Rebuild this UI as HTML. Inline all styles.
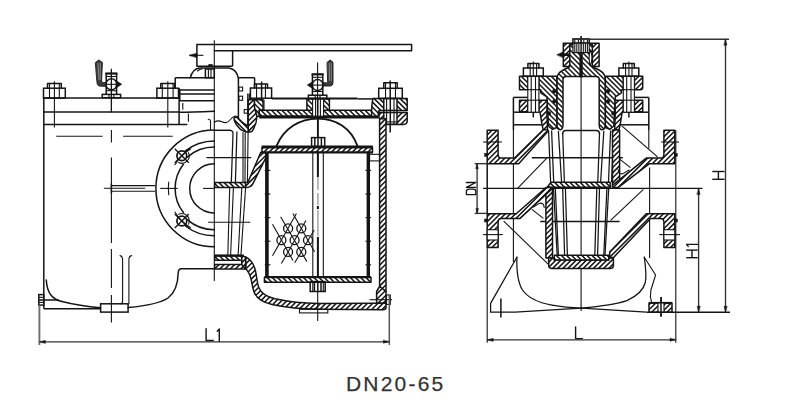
<!DOCTYPE html>
<html><head><meta charset="utf-8"><title>DN20-65</title>
<style>
html,body{margin:0;padding:0;background:#fff;}
body{width:811px;height:416px;overflow:hidden;position:relative;font-family:"Liberation Sans",sans-serif;}
svg{position:absolute;left:0;top:0;display:block;}
.cap{position:absolute;left:346px;top:372.4px;font-size:21px;line-height:24px;letter-spacing:2.2px;color:#333;white-space:nowrap;-webkit-text-stroke:0.25px #333;}
</style></head><body>
<svg width="811" height="416" viewBox="0 0 811 416">
<defs>
<pattern id="h1" patternUnits="userSpaceOnUse" width="3" height="3"><rect width="3" height="3" fill="#fff"/><path d="M-1 1 l2 -2 M0 3 l3 -3 M2 4 l2 -2" stroke="#141414" stroke-width="0.95" fill="none"/></pattern>
<pattern id="h2" patternUnits="userSpaceOnUse" width="3" height="3"><rect width="3" height="3" fill="#fff"/><path d="M-1 2 l2 2 M0 0 l3 3 M2 -1 l2 2" stroke="#141414" stroke-width="0.95" fill="none"/></pattern>
</defs>
<rect width="811" height="416" fill="#fff"/>
<line x1="43.8" y1="98.1" x2="43.8" y2="308.8" stroke="#141414" stroke-width="1.5" stroke-linecap="butt"/>
<line x1="43.8" y1="98.1" x2="179.1" y2="98.1" stroke="#141414" stroke-width="1.5" stroke-linecap="butt"/>
<line x1="43.8" y1="111.9" x2="179.1" y2="111.9" stroke="#141414" stroke-width="1.5" stroke-linecap="butt"/>
<line x1="43.8" y1="124.4" x2="187.3" y2="124.4" stroke="#141414" stroke-width="1.5" stroke-linecap="butt"/>
<line x1="179.1" y1="88" x2="179.1" y2="124.4" stroke="#141414" stroke-width="1.5" stroke-linecap="butt"/>
<line x1="56.3" y1="136.3" x2="102.6" y2="136.3" stroke="#141414" stroke-width="1.1" stroke-linecap="butt"/>
<line x1="123.1" y1="136.3" x2="172.7" y2="136.3" stroke="#141414" stroke-width="1.1" stroke-linecap="butt"/>
<line x1="111.4" y1="68.8" x2="111.4" y2="112.6" stroke="#141414" stroke-width="1.1" stroke-linecap="butt"/>
<line x1="111.4" y1="130" x2="111.4" y2="142.5" stroke="#141414" stroke-width="1.1" stroke-linecap="butt"/>
<line x1="111.4" y1="157.5" x2="111.4" y2="243" stroke="#141414" stroke-width="1.1" stroke-linecap="butt"/>
<line x1="111.4" y1="249" x2="111.4" y2="288" stroke="#141414" stroke-width="1.1" stroke-linecap="butt"/>
<line x1="111.4" y1="295" x2="111.4" y2="322.6" stroke="#141414" stroke-width="1.1" stroke-linecap="butt"/>
<line x1="111.4" y1="185.6" x2="155.2" y2="185.6" stroke="#141414" stroke-width="1.1" stroke-linecap="butt"/>
<line x1="111.4" y1="191.3" x2="155.2" y2="191.3" stroke="#141414" stroke-width="1.1" stroke-linecap="butt"/>
<line x1="103.9" y1="188.3" x2="145.2" y2="188.3" stroke="#141414" stroke-width="1.1" stroke-linecap="butt"/>
<line x1="111.4" y1="183.5" x2="111.4" y2="193.5" stroke="#141414" stroke-width="1.5" stroke-linecap="butt"/>
<path d="M46.3 280 C47 293 52 299 62 301.6 C75 305 90 307 100.6 307.8" stroke="#141414" stroke-width="1.5" fill="none" stroke-linejoin="round" stroke-linecap="round"/>
<line x1="43.8" y1="308.8" x2="100.6" y2="308.8" stroke="#141414" stroke-width="1.5" stroke-linecap="butt"/>
<line x1="38.8" y1="300" x2="58.8" y2="300" stroke="#141414" stroke-width="1.5" stroke-linecap="butt"/>
<rect x="38.8" y="294.6" width="5" height="10.5" stroke="#141414" stroke-width="1.5" fill="none"/>
<line x1="38.8" y1="297.3" x2="43.8" y2="297.3" stroke="#141414" stroke-width="1.1" stroke-linecap="butt"/>
<line x1="38.8" y1="302.4" x2="43.8" y2="302.4" stroke="#141414" stroke-width="1.1" stroke-linecap="butt"/>
<rect x="100.6" y="303.8" width="27.5" height="8.3" stroke="#141414" stroke-width="1.5" fill="none"/>
<path d="M128.1 307.6 C145 306 160 303.5 168 298 C176 292 178 282 178.2 273 C178.3 270 179 268.8 181.5 268.8 L214.3 268.8" stroke="#141414" stroke-width="1.5" fill="none" stroke-linejoin="round" stroke-linecap="round"/>
<path d="M120 255.6 C122.2 256 122.6 257.5 122.6 260 L122.6 301.5 C122.6 303 121.5 303.8 120 303.8" stroke="#141414" stroke-width="1.1" fill="none" stroke-linejoin="round" stroke-linecap="round"/>
<path d="M131.6 255.6 C129.4 256 128.9 257.5 128.9 260 L128.9 303.8" stroke="#141414" stroke-width="1.1" fill="none" stroke-linejoin="round" stroke-linecap="round"/>
<rect x="43.5" y="88.2" width="21.8" height="9.9" stroke="#141414" stroke-width="1.5" fill="none"/>
<path d="M47.5 88.2 L47.5 83.6 L61.3 83.6 L61.3 88.2" stroke="#141414" stroke-width="1.5" fill="none" stroke-linejoin="round" stroke-linecap="round"/>
<line x1="49.49" y1="83.6" x2="49.49" y2="98.1" stroke="#141414" stroke-width="1.1" stroke-linecap="butt"/>
<line x1="59.3" y1="83.6" x2="59.3" y2="98.1" stroke="#141414" stroke-width="1.1" stroke-linecap="butt"/>
<line x1="54.4" y1="81.3" x2="54.4" y2="127.6" stroke="#141414" stroke-width="1.1" stroke-linecap="butt"/>
<rect x="156.9" y="88.2" width="21.6" height="9.9" stroke="#141414" stroke-width="1.5" fill="none"/>
<path d="M160.8 88.2 L160.8 83.6 L174.6 83.6 L174.6 88.2" stroke="#141414" stroke-width="1.5" fill="none" stroke-linejoin="round" stroke-linecap="round"/>
<line x1="162.3" y1="83.6" x2="162.3" y2="98.1" stroke="#141414" stroke-width="1.1" stroke-linecap="butt"/>
<line x1="173.1" y1="83.6" x2="173.1" y2="98.1" stroke="#141414" stroke-width="1.1" stroke-linecap="butt"/>
<line x1="167.8" y1="81.3" x2="167.8" y2="127.6" stroke="#141414" stroke-width="1.1" stroke-linecap="butt"/>
<rect x="102.2" y="94.4" width="18.4" height="3.3" stroke="#141414" stroke-width="1.5" fill="none"/>
<line x1="106.2" y1="94.4" x2="106.2" y2="73.1" stroke="#141414" stroke-width="1.5" stroke-linecap="butt"/>
<line x1="116.6" y1="94.4" x2="116.6" y2="73.1" stroke="#141414" stroke-width="1.5" stroke-linecap="butt"/>
<line x1="105.4" y1="73.5" x2="117.4" y2="73.5" stroke="#141414" stroke-width="2.2" stroke-linecap="butt"/>
<line x1="106.2" y1="76.5" x2="116.6" y2="76.5" stroke="#141414" stroke-width="1.1" stroke-linecap="butt"/>
<line x1="106.2" y1="90.7" x2="116.6" y2="90.7" stroke="#141414" stroke-width="1.1" stroke-linecap="butt"/>
<circle cx="111.4" cy="84.3" r="5.5" stroke="#141414" stroke-width="1.5" fill="none"/>
<line x1="104.4" y1="84.3" x2="118.4" y2="84.3" stroke="#141414" stroke-width="1.1" stroke-linecap="butt"/>
<line x1="111.4" y1="69.6" x2="111.4" y2="112.1" stroke="#141414" stroke-width="1.1" stroke-linecap="butt"/>
<line x1="109" y1="94.4" x2="109" y2="97.7" stroke="#141414" stroke-width="1.1" stroke-linecap="butt"/>
<line x1="113.8" y1="94.4" x2="113.8" y2="97.7" stroke="#141414" stroke-width="1.1" stroke-linecap="butt"/>
<path d="M116.6 81.1 L121.6 84.3 L116.6 87.5 Z" stroke="#141414" stroke-width="0.8" fill="#141414" stroke-linejoin="round" stroke-linecap="round"/>
<path d="M95.6 62.4 L98.7 60 L102.4 62.4 L101.6 80 C101.6 81.8 102.2 82.6 103.5 82.6 L106 82.6 L106 86.2 L100.5 86.2 C98 86.2 97 84.5 96.9 82 Z" stroke="#141414" stroke-width="0.9" fill="#3c3c3c" stroke-linejoin="round" stroke-linecap="round"/>
<line x1="98" y1="63" x2="99" y2="80" stroke="#a8a8a8" stroke-width="0.7" stroke-linecap="butt"/>
<line x1="100.3" y1="63" x2="100.2" y2="80" stroke="#a8a8a8" stroke-width="0.7" stroke-linecap="butt"/>
<line x1="175.2" y1="77.8" x2="214.3" y2="77.8" stroke="#141414" stroke-width="1.5" stroke-linecap="butt"/>
<line x1="175.2" y1="77.8" x2="175.2" y2="88" stroke="#141414" stroke-width="1.5" stroke-linecap="butt"/>
<line x1="178.2" y1="90" x2="214.3" y2="90" stroke="#141414" stroke-width="1.5" stroke-linecap="butt"/>
<line x1="180.2" y1="93.9" x2="214.3" y2="93.9" stroke="#141414" stroke-width="1.5" stroke-linecap="butt"/>
<line x1="180.2" y1="100.8" x2="214.3" y2="100.8" stroke="#141414" stroke-width="1.5" stroke-linecap="butt"/>
<path d="M179.1 112.2 C190 112.2 205 111.6 214.3 111.2" stroke="#141414" stroke-width="1.5" fill="none" stroke-linejoin="round" stroke-linecap="round"/>
<line x1="179.8" y1="89" x2="179.8" y2="101.3" stroke="#141414" stroke-width="1.5" stroke-linecap="butt"/>
<line x1="182.8" y1="103" x2="182.8" y2="109.7" stroke="#141414" stroke-width="1.1" stroke-linecap="butt"/>
<line x1="188.4" y1="113.4" x2="188.4" y2="121.8" stroke="#141414" stroke-width="1.1" stroke-linecap="butt"/>
<path d="M196.9 66.2 L196.9 44.4 L411.6 44.4 L411.6 50.8 L214.3 50.8" stroke="#141414" stroke-width="1.5" fill="none" stroke-linejoin="round" stroke-linecap="round"/>
<line x1="196.9" y1="66.2" x2="232.6" y2="66.2" stroke="#141414" stroke-width="1.5" stroke-linecap="butt"/>
<line x1="232.6" y1="50.8" x2="232.6" y2="66.2" stroke="#141414" stroke-width="1.5" stroke-linecap="butt"/>
<line x1="214.3" y1="40.3" x2="214.3" y2="281" stroke="#141414" stroke-width="1.1" stroke-linecap="butt"/>
<line x1="189.5" y1="55.3" x2="203.4" y2="55.3" stroke="#141414" stroke-width="1.1" stroke-linecap="butt"/>
<path d="M189.4 55.3 L196.9 53.2 L196.9 57.4 Z" stroke="#141414" stroke-width="0.6" fill="#141414" stroke-linejoin="round" stroke-linecap="round"/>
<path d="M190.3 77.8 C191.5 72.5 195 68.6 199.5 67.9 L229 67.9 C234 68.8 237.6 73 238.4 78.7 L238.4 118" stroke="#141414" stroke-width="1.5" fill="none" stroke-linejoin="round" stroke-linecap="round"/>
<rect x="205.4" y="69" width="8.9" height="8.7" stroke="#141414" stroke-width="1.5" fill="none"/>
<line x1="208.4" y1="69" x2="208.4" y2="77.7" stroke="#141414" stroke-width="1.1" stroke-linecap="butt"/>
<line x1="211" y1="69" x2="211" y2="77.7" stroke="#141414" stroke-width="1.1" stroke-linecap="butt"/>
<rect x="208.8" y="64.4" width="3.4" height="1.8" stroke="#141414" stroke-width="0.6" fill="#141414"/>
<path d="M197.5 71 C199 69.6 200.8 69 202.5 68.8" stroke="#141414" stroke-width="1.1" fill="none" stroke-linejoin="round" stroke-linecap="round"/>
<path d="M214.3 130 A58.4 58.4 0 0 0 214.3 246.8" stroke="#141414" stroke-width="1.5" fill="none" stroke-linejoin="round" stroke-linecap="round"/>
<path d="M214.3 163.8 A24.6 24.6 0 0 0 214.3 213" stroke="#141414" stroke-width="1.5" fill="none" stroke-linejoin="round" stroke-linecap="round"/>
<path d="M214.3 147.1 A41.3 41.3 0 0 0 187.2 157.23" stroke="#141414" stroke-width="1.5" fill="none" stroke-linejoin="round" stroke-linecap="round"/>
<path d="M187.2 219.57 A41.3 41.3 0 0 0 214.3 229.7" stroke="#141414" stroke-width="1.5" fill="none" stroke-linejoin="round" stroke-linecap="round"/>
<path d="M183.41 164.27 A39.2 39.2 0 0 0 183.41 212.53" stroke="#141414" stroke-width="1.5" fill="none" stroke-linejoin="round" stroke-linecap="round"/>
<path d="M214.3 141 A47.4 47.4 0 0 0 185.12 151.05" stroke="#141414" stroke-width="1.5" fill="none" stroke-linejoin="round" stroke-linecap="round"/>
<path d="M185.12 225.75 A47.4 47.4 0 0 0 214.3 235.8" stroke="#141414" stroke-width="1.5" fill="none" stroke-linejoin="round" stroke-linecap="round"/>
<path d="M168.75 182 A46 46 0 0 0 168.75 194.8" stroke="#141414" stroke-width="1.1" fill="none" stroke-linejoin="round" stroke-linecap="round"/>
<circle cx="181.8" cy="155.8" r="4.9" stroke="#141414" stroke-width="1.7" fill="none"/>
<line x1="174.8" y1="148.8" x2="188.8" y2="162.8" stroke="#141414" stroke-width="1.3" stroke-linecap="butt"/>
<line x1="174.8" y1="162.8" x2="188.8" y2="148.8" stroke="#141414" stroke-width="1.3" stroke-linecap="butt"/>
<path d="M178.67 162.51 A7.4 7.4 0 0 0 188.51 152.67" stroke="#141414" stroke-width="1.1" fill="none" stroke-linejoin="round" stroke-linecap="round"/>
<path d="M190.61 148.97 A46 46 0 0 0 174.87 164.71" stroke="#141414" stroke-width="1.1" fill="none" stroke-linejoin="round" stroke-linecap="round"/>
<circle cx="181.8" cy="221" r="4.9" stroke="#141414" stroke-width="1.7" fill="none"/>
<line x1="174.8" y1="214" x2="188.8" y2="228" stroke="#141414" stroke-width="1.3" stroke-linecap="butt"/>
<line x1="174.8" y1="228" x2="188.8" y2="214" stroke="#141414" stroke-width="1.3" stroke-linecap="butt"/>
<path d="M188.51 224.13 A7.4 7.4 0 0 0 178.67 214.29" stroke="#141414" stroke-width="1.1" fill="none" stroke-linejoin="round" stroke-linecap="round"/>
<path d="M174.87 212.09 A46 46 0 0 0 190.61 227.83" stroke="#141414" stroke-width="1.1" fill="none" stroke-linejoin="round" stroke-linecap="round"/>
<line x1="160.2" y1="188.4" x2="177.7" y2="188.4" stroke="#141414" stroke-width="1.1" stroke-linecap="butt"/>
<line x1="206.5" y1="157.6" x2="251.2" y2="157.6" stroke="#141414" stroke-width="1.1" stroke-linecap="butt"/>
<line x1="208.1" y1="222.2" x2="250.3" y2="222.2" stroke="#141414" stroke-width="1.1" stroke-linecap="butt"/>
<line x1="203" y1="188.4" x2="214.3" y2="188.4" stroke="#141414" stroke-width="1.1" stroke-linecap="butt"/>
<line x1="238.3" y1="77.7" x2="254.6" y2="77.7" stroke="#141414" stroke-width="1.5" stroke-linecap="butt"/>
<line x1="254.6" y1="77.7" x2="254.6" y2="87.6" stroke="#141414" stroke-width="1.5" stroke-linecap="butt"/>
<rect x="238.9" y="87.1" width="3.7" height="3.9" stroke="#141414" stroke-width="1.1" fill="none"/>
<rect x="238.9" y="96.2" width="3.7" height="4.1" stroke="#141414" stroke-width="1.1" fill="none"/>
<rect x="244.2" y="109.5" width="3.3" height="3.7" stroke="#141414" stroke-width="1.1" fill="none"/>
<line x1="247.9" y1="93.5" x2="247.9" y2="132" stroke="#141414" stroke-width="1.5" stroke-linecap="butt"/>
<line x1="249.6" y1="93.5" x2="249.6" y2="99.7" stroke="#141414" stroke-width="1.1" stroke-linecap="butt"/>
<path d="M208.2 119.2 C210.5 119 210.8 121 210.5 124 L210.5 129.3" stroke="#141414" stroke-width="1.1" fill="none" stroke-linejoin="round" stroke-linecap="round"/>
<path d="M214.3 122.2 C217 120.5 219.5 120.6 222 121.8 C225 123.2 227.5 122.8 229.5 120.5 C231.5 118 233 116.5 235.2 116 C236.6 116 237.6 117 238.3 118.2" stroke="#141414" stroke-width="1.1" fill="none" stroke-linejoin="round" stroke-linecap="round"/>
<rect x="250.4" y="88" width="21.2" height="10.2" stroke="#141414" stroke-width="1.5" fill="none"/>
<path d="M254.5 88 L254.5 83.9 L267.5 83.9 L267.5 88" stroke="#141414" stroke-width="1.5" fill="none" stroke-linejoin="round" stroke-linecap="round"/>
<line x1="256.55" y1="83.9" x2="256.55" y2="98.2" stroke="#141414" stroke-width="1.1" stroke-linecap="butt"/>
<line x1="265.45" y1="83.9" x2="265.45" y2="98.2" stroke="#141414" stroke-width="1.1" stroke-linecap="butt"/>
<line x1="261.6" y1="81.5" x2="261.6" y2="98.2" stroke="#141414" stroke-width="1.5" stroke-linecap="butt"/>
<clipPath id="c1"><path d="M248.2 99.7 L254.5 99.7 L254.5 107 C255 111 256.5 112.5 256.8 116.2 C257 121 255.6 126 251.9 131.6 L248.2 132.2 Z"/></clipPath>
<path d="M248.2 99.7 L254.5 99.7 L254.5 107 C255 111 256.5 112.5 256.8 116.2 C257 121 255.6 126 251.9 131.6 L248.2 132.2 Z" fill="#fff" stroke="none"/>
<path d="M210 133.2 L244.5 98.7 M215.2 133.2 L249.7 98.7 M220.4 133.2 L254.9 98.7 M225.6 133.2 L260.1 98.7 M230.8 133.2 L265.3 98.7 M236 133.2 L270.5 98.7 M241.2 133.2 L275.7 98.7 M246.4 133.2 L280.9 98.7 M251.6 133.2 L286.1 98.7 M256.8 133.2 L291.3 98.7" stroke="#141414" stroke-width="1.5" fill="none" clip-path="url(#c1)"/>
<path d="M248.2 99.7 L254.5 99.7 L254.5 107 C255 111 256.5 112.5 256.8 116.2 C257 121 255.6 126 251.9 131.6 L248.2 132.2 Z" stroke="#141414" stroke-width="1.5" fill="none" stroke-linejoin="round" stroke-linecap="round"/>
<clipPath id="c2"><path d="M254.5 99.7 L263 99.7 L263 110.1 L259.3 110.1 L259.3 116.5 L256.8 116.2 C256.5 112.5 255 111 254.5 107 Z"/></clipPath>
<path d="M254.5 99.7 L263 99.7 L263 110.1 L259.3 110.1 L259.3 116.5 L256.8 116.2 C256.5 112.5 255 111 254.5 107 Z" fill="#fff" stroke="none"/>
<path d="M233.9 98.7 L252.7 117.5 M239.1 98.7 L257.9 117.5 M244.3 98.7 L263.1 117.5 M249.5 98.7 L268.3 117.5 M254.7 98.7 L273.5 117.5 M259.9 98.7 L278.7 117.5" stroke="#141414" stroke-width="1.5" fill="none" clip-path="url(#c2)"/>
<path d="M254.5 99.7 L263 99.7 L263 110.1 L259.3 110.1 L259.3 116.5 L256.8 116.2 C256.5 112.5 255 111 254.5 107 Z" stroke="#141414" stroke-width="1.5" fill="none" stroke-linejoin="round" stroke-linecap="round"/>
<clipPath id="c3"><path d="M234 118 C234 121 235 124 240.8 129.7 C243 131.2 245.5 132 248.2 132.2 L248.2 126 C245 124.5 241 122 237 116.8 Z"/></clipPath>
<path d="M234 118 C234 121 235 124 240.8 129.7 C243 131.2 245.5 132 248.2 132.2 L248.2 126 C245 124.5 241 122 237 116.8 Z" fill="#fff" stroke="none"/>
<path d="M214.6 115.8 L232 133.2 M219.8 115.8 L237.2 133.2 M225 115.8 L242.4 133.2 M230.2 115.8 L247.6 133.2 M235.4 115.8 L252.8 133.2 M240.6 115.8 L258 133.2 M245.8 115.8 L263.2 133.2" stroke="#141414" stroke-width="1.5" fill="none" clip-path="url(#c3)"/>
<path d="M234 118 C234 121 235 124 240.8 129.7 C243 131.2 245.5 132 248.2 132.2 L248.2 126 C245 124.5 241 122 237 116.8 Z" stroke="#141414" stroke-width="1.5" fill="none" stroke-linejoin="round" stroke-linecap="round"/>
<clipPath id="c4"><path d="M259.3 110.2 L372.5 110.2 L372.5 116.2 L259.3 116.2 Z"/></clipPath>
<path d="M259.3 110.2 L372.5 110.2 L372.5 116.2 L259.3 116.2 Z" fill="#fff" stroke="none"/>
<path d="M249.6 109.2 L257.6 117.2 M254.8 109.2 L262.8 117.2 M260 109.2 L268 117.2 M265.2 109.2 L273.2 117.2 M270.4 109.2 L278.4 117.2 M275.6 109.2 L283.6 117.2 M280.8 109.2 L288.8 117.2 M286 109.2 L294 117.2 M291.2 109.2 L299.2 117.2 M296.4 109.2 L304.4 117.2 M301.6 109.2 L309.6 117.2 M306.8 109.2 L314.8 117.2 M312 109.2 L320 117.2 M317.2 109.2 L325.2 117.2 M322.4 109.2 L330.4 117.2 M327.6 109.2 L335.6 117.2 M332.8 109.2 L340.8 117.2 M338 109.2 L346 117.2 M343.2 109.2 L351.2 117.2 M348.4 109.2 L356.4 117.2 M353.6 109.2 L361.6 117.2 M358.8 109.2 L366.8 117.2 M364 109.2 L372 117.2 M369.2 109.2 L377.2 117.2" stroke="#141414" stroke-width="1.5" fill="none" clip-path="url(#c4)"/>
<path d="M259.3 110.2 L372.5 110.2 L372.5 116.2 L259.3 116.2 Z" stroke="#141414" stroke-width="1.5" fill="none" stroke-linejoin="round" stroke-linecap="round"/>
<line x1="259.3" y1="117" x2="378.5" y2="117" stroke="#141414" stroke-width="3" stroke-linecap="butt"/>
<line x1="271.6" y1="98.6" x2="357.5" y2="98.6" stroke="#141414" stroke-width="2" stroke-linecap="butt"/>
<line x1="357.5" y1="98.9" x2="372.5" y2="98.9" stroke="#141414" stroke-width="1.5" stroke-linecap="butt"/>
<line x1="264" y1="99.7" x2="264" y2="110.1" stroke="#141414" stroke-width="1.1" stroke-linecap="butt"/>
<clipPath id="c5"><path d="M306.9 99.1 L306.9 110.3 L329.4 110.3 L329.4 99.1 Z"/></clipPath>
<path d="M306.9 99.1 L306.9 110.3 L329.4 110.3 L329.4 99.1 Z" fill="#fff" stroke="none"/>
<path d="M290.5 98.1 L303.7 111.3 M295.7 98.1 L308.9 111.3 M300.9 98.1 L314.1 111.3 M306.1 98.1 L319.3 111.3 M311.3 98.1 L324.5 111.3 M316.5 98.1 L329.7 111.3 M321.7 98.1 L334.9 111.3 M326.9 98.1 L340.1 111.3" stroke="#141414" stroke-width="1.5" fill="none" clip-path="url(#c5)"/>
<path d="M306.9 99.1 L306.9 110.3 L329.4 110.3 L329.4 99.1 Z" stroke="#141414" stroke-width="1.5" fill="none" stroke-linejoin="round" stroke-linecap="round"/>
<rect x="312.6" y="99.1" width="11" height="17.1" stroke="#141414" stroke-width="1.1" fill="#fff"/>
<line x1="315.6" y1="99.1" x2="315.6" y2="116.2" stroke="#141414" stroke-width="1.1" stroke-linecap="butt"/>
<line x1="320.4" y1="99.1" x2="320.4" y2="116.2" stroke="#141414" stroke-width="1.1" stroke-linecap="butt"/>
<rect x="308.4" y="95.2" width="18.4" height="3.3" stroke="#141414" stroke-width="1.5" fill="none"/>
<line x1="312.4" y1="95.2" x2="312.4" y2="73.9" stroke="#141414" stroke-width="1.5" stroke-linecap="butt"/>
<line x1="322.8" y1="95.2" x2="322.8" y2="73.9" stroke="#141414" stroke-width="1.5" stroke-linecap="butt"/>
<line x1="311.6" y1="74.3" x2="323.6" y2="74.3" stroke="#141414" stroke-width="2.2" stroke-linecap="butt"/>
<line x1="312.4" y1="77.3" x2="322.8" y2="77.3" stroke="#141414" stroke-width="1.1" stroke-linecap="butt"/>
<line x1="312.4" y1="91.5" x2="322.8" y2="91.5" stroke="#141414" stroke-width="1.1" stroke-linecap="butt"/>
<circle cx="317.6" cy="85.1" r="5.5" stroke="#141414" stroke-width="1.5" fill="none"/>
<line x1="310.6" y1="85.1" x2="324.6" y2="85.1" stroke="#141414" stroke-width="1.1" stroke-linecap="butt"/>
<line x1="317.6" y1="62.4" x2="317.6" y2="112.9" stroke="#141414" stroke-width="1.1" stroke-linecap="butt"/>
<line x1="315.2" y1="95.2" x2="315.2" y2="98.5" stroke="#141414" stroke-width="1.1" stroke-linecap="butt"/>
<line x1="320" y1="95.2" x2="320" y2="98.5" stroke="#141414" stroke-width="1.1" stroke-linecap="butt"/>
<path d="M312.4 81.9 L307.4 85.1 L312.4 88.3 Z" stroke="#141414" stroke-width="0.8" fill="#141414" stroke-linejoin="round" stroke-linecap="round"/>
<path d="M327.3 62.2 L330.2 60 L333 62.2 L333 82.4 C333 85 331.8 86 329.4 86 L323.2 86 L323.2 82.8 L326.4 82.8 C327.2 82.8 327.6 82.2 327.6 81.2 Z" stroke="#141414" stroke-width="0.9" fill="#3c3c3c" stroke-linejoin="round" stroke-linecap="round"/>
<line x1="329.3" y1="63" x2="329.4" y2="81" stroke="#a8a8a8" stroke-width="0.7" stroke-linecap="butt"/>
<line x1="331.3" y1="63" x2="331.3" y2="81" stroke="#a8a8a8" stroke-width="0.7" stroke-linecap="butt"/>
<clipPath id="c6"><path d="M372.8 98.6 L407.2 98.6 L407.2 110.4 L379 110.4 L378.1 116.2 L371.5 116.2 L371.8 106 Z"/></clipPath>
<path d="M372.8 98.6 L407.2 98.6 L407.2 110.4 L379 110.4 L378.1 116.2 L371.5 116.2 L371.8 106 Z" fill="#fff" stroke="none"/>
<path d="M347.2 97.6 L366.8 117.2 M352.4 97.6 L372 117.2 M357.6 97.6 L377.2 117.2 M362.8 97.6 L382.4 117.2 M368 97.6 L387.6 117.2 M373.2 97.6 L392.8 117.2 M378.4 97.6 L398 117.2 M383.6 97.6 L403.2 117.2 M388.8 97.6 L408.4 117.2 M394 97.6 L413.6 117.2 M399.2 97.6 L418.8 117.2 M404.4 97.6 L424 117.2" stroke="#141414" stroke-width="1.5" fill="none" clip-path="url(#c6)"/>
<path d="M372.8 98.6 L407.2 98.6 L407.2 110.4 L379 110.4 L378.1 116.2 L371.5 116.2 L371.8 106 Z" stroke="#141414" stroke-width="1.5" fill="none" stroke-linejoin="round" stroke-linecap="round"/>
<clipPath id="c7"><path d="M379 112.5 L407.2 112.5 L407.2 120.8 C407.2 123.2 405.8 124.4 403.5 124.4 L386.1 124.4 L386.1 118.7 L379.8 118.7 L379 117.8 Z"/></clipPath>
<path d="M379 112.5 L407.2 112.5 L407.2 120.8 C407.2 123.2 405.8 124.4 403.5 124.4 L386.1 124.4 L386.1 118.7 L379.8 118.7 L379 117.8 Z" fill="#fff" stroke="none"/>
<path d="M363.4 125.4 L377.3 111.5 M368.6 125.4 L382.5 111.5 M373.8 125.4 L387.7 111.5 M379 125.4 L392.9 111.5 M384.2 125.4 L398.1 111.5 M389.4 125.4 L403.3 111.5 M394.6 125.4 L408.5 111.5 M399.8 125.4 L413.7 111.5 M405 125.4 L418.9 111.5" stroke="#141414" stroke-width="1.5" fill="none" clip-path="url(#c7)"/>
<path d="M379 112.5 L407.2 112.5 L407.2 120.8 C407.2 123.2 405.8 124.4 403.5 124.4 L386.1 124.4 L386.1 118.7 L379.8 118.7 L379 117.8 Z" stroke="#141414" stroke-width="1.5" fill="none" stroke-linejoin="round" stroke-linecap="round"/>
<rect x="383.8" y="98.6" width="13.2" height="25.6" stroke="#141414" stroke-width="1.5" fill="#fff"/>
<line x1="386.6" y1="98.6" x2="386.6" y2="124.2" stroke="#141414" stroke-width="1.1" stroke-linecap="butt"/>
<line x1="394" y1="98.6" x2="394" y2="124.2" stroke="#141414" stroke-width="1.1" stroke-linecap="butt"/>
<line x1="390.3" y1="98.6" x2="390.3" y2="124.2" stroke="#141414" stroke-width="1.5" stroke-linecap="butt"/>
<line x1="383.8" y1="110.4" x2="397" y2="110.4" stroke="#141414" stroke-width="1.5" stroke-linecap="butt"/>
<line x1="383.8" y1="112.5" x2="397" y2="112.5" stroke="#141414" stroke-width="1.5" stroke-linecap="butt"/>
<line x1="383.8" y1="121.9" x2="397" y2="121.9" stroke="#141414" stroke-width="1.1" stroke-linecap="butt"/>
<rect x="378.7" y="88.3" width="23.6" height="10.1" stroke="#141414" stroke-width="1.5" fill="none"/>
<path d="M383.8 88.3 L383.8 82.8 L397.2 82.8 L397.2 88.3" stroke="#141414" stroke-width="1.5" fill="none" stroke-linejoin="round" stroke-linecap="round"/>
<line x1="385.54" y1="82.8" x2="385.54" y2="98.4" stroke="#141414" stroke-width="1.1" stroke-linecap="butt"/>
<line x1="395.46" y1="82.8" x2="395.46" y2="98.4" stroke="#141414" stroke-width="1.1" stroke-linecap="butt"/>
<line x1="390.2" y1="80.5" x2="390.2" y2="98.4" stroke="#141414" stroke-width="1.5" stroke-linecap="butt"/>
<line x1="390.2" y1="124.2" x2="390.2" y2="132.5" stroke="#141414" stroke-width="1.5" stroke-linecap="butt"/>
<clipPath id="c8"><path d="M379.6 118.7 L386 118.7 L386 291.5 L379.6 286.5 Z"/></clipPath>
<path d="M379.6 118.7 L386 118.7 L386 291.5 L379.6 286.5 Z" fill="#fff" stroke="none"/>
<path d="M201.5 292.5 L376.3 117.7 M206.7 292.5 L381.5 117.7 M211.9 292.5 L386.7 117.7 M217.1 292.5 L391.9 117.7 M222.3 292.5 L397.1 117.7 M227.5 292.5 L402.3 117.7 M232.7 292.5 L407.5 117.7 M237.9 292.5 L412.7 117.7 M243.1 292.5 L417.9 117.7 M248.3 292.5 L423.1 117.7 M253.5 292.5 L428.3 117.7 M258.7 292.5 L433.5 117.7 M263.9 292.5 L438.7 117.7 M269.1 292.5 L443.9 117.7 M274.3 292.5 L449.1 117.7 M279.5 292.5 L454.3 117.7 M284.7 292.5 L459.5 117.7 M289.9 292.5 L464.7 117.7 M295.1 292.5 L469.9 117.7 M300.3 292.5 L475.1 117.7 M305.5 292.5 L480.3 117.7 M310.7 292.5 L485.5 117.7 M315.9 292.5 L490.7 117.7 M321.1 292.5 L495.9 117.7 M326.3 292.5 L501.1 117.7 M331.5 292.5 L506.3 117.7 M336.7 292.5 L511.5 117.7 M341.9 292.5 L516.7 117.7 M347.1 292.5 L521.9 117.7 M352.3 292.5 L527.1 117.7 M357.5 292.5 L532.3 117.7 M362.7 292.5 L537.5 117.7 M367.9 292.5 L542.7 117.7 M373.1 292.5 L547.9 117.7 M378.3 292.5 L553.1 117.7 M383.5 292.5 L558.3 117.7" stroke="#141414" stroke-width="1.5" fill="none" clip-path="url(#c8)"/>
<path d="M379.6 118.7 L386 118.7 L386 291.5 L379.6 286.5 Z" stroke="#141414" stroke-width="1.5" fill="none" stroke-linejoin="round" stroke-linecap="round"/>
<clipPath id="c9"><path d="M379.6 286.5 L376.6 291.5 L376.6 303.3 L386 303.3 L386 291.5 Z"/></clipPath>
<path d="M379.6 286.5 L376.6 291.5 L376.6 303.3 L386 303.3 L386 291.5 Z" fill="#fff" stroke="none"/>
<path d="M356.1 304.3 L374.9 285.5 M361.3 304.3 L380.1 285.5 M366.5 304.3 L385.3 285.5 M371.7 304.3 L390.5 285.5 M376.9 304.3 L395.7 285.5 M382.1 304.3 L400.9 285.5" stroke="#141414" stroke-width="1.5" fill="none" clip-path="url(#c9)"/>
<path d="M379.6 286.5 L376.6 291.5 L376.6 303.3 L386 303.3 L386 291.5 Z" stroke="#141414" stroke-width="1.5" fill="none" stroke-linejoin="round" stroke-linecap="round"/>
<line x1="369.6" y1="299.7" x2="392.1" y2="299.7" stroke="#141414" stroke-width="1.1" stroke-linecap="butt"/>
<rect x="386.5" y="295" width="3.8" height="9.4" stroke="#141414" stroke-width="1.1" fill="none"/>
<clipPath id="c10"><path d="M245.6 256.9 C249 258.5 252.5 262 254.3 267 C256.8 273 256.5 282 259 288 C261 293 266 296.5 275 298.8 C292 302.5 306 303.4 318 303.4 L376.6 303.3 L386 303.3 L386 307.2 C386 309 385 309.7 383 309.7 L318 309.3 C303 309.2 287 307.8 272 304.6 C262 302.2 256.5 298.5 254 292 C251.5 285 251.8 278 249.3 274 C247.8 271.2 246.5 269 245.6 269 Z"/></clipPath>
<path d="M245.6 256.9 C249 258.5 252.5 262 254.3 267 C256.8 273 256.5 282 259 288 C261 293 266 296.5 275 298.8 C292 302.5 306 303.4 318 303.4 L376.6 303.3 L386 303.3 L386 307.2 C386 309 385 309.7 383 309.7 L318 309.3 C303 309.2 287 307.8 272 304.6 C262 302.2 256.5 298.5 254 292 C251.5 285 251.8 278 249.3 274 C247.8 271.2 246.5 269 245.6 269 Z" fill="#fff" stroke="none"/>
<path d="M188.5 310.7 L243.3 255.9 M193.7 310.7 L248.5 255.9 M198.9 310.7 L253.7 255.9 M204.1 310.7 L258.9 255.9 M209.3 310.7 L264.1 255.9 M214.5 310.7 L269.3 255.9 M219.7 310.7 L274.5 255.9 M224.9 310.7 L279.7 255.9 M230.1 310.7 L284.9 255.9 M235.3 310.7 L290.1 255.9 M240.5 310.7 L295.3 255.9 M245.7 310.7 L300.5 255.9 M250.9 310.7 L305.7 255.9 M256.1 310.7 L310.9 255.9 M261.3 310.7 L316.1 255.9 M266.5 310.7 L321.3 255.9 M271.7 310.7 L326.5 255.9 M276.9 310.7 L331.7 255.9 M282.1 310.7 L336.9 255.9 M287.3 310.7 L342.1 255.9 M292.5 310.7 L347.3 255.9 M297.7 310.7 L352.5 255.9 M302.9 310.7 L357.7 255.9 M308.1 310.7 L362.9 255.9 M313.3 310.7 L368.1 255.9 M318.5 310.7 L373.3 255.9 M323.7 310.7 L378.5 255.9 M328.9 310.7 L383.7 255.9 M334.1 310.7 L388.9 255.9 M339.3 310.7 L394.1 255.9 M344.5 310.7 L399.3 255.9 M349.7 310.7 L404.5 255.9 M354.9 310.7 L409.7 255.9 M360.1 310.7 L414.9 255.9 M365.3 310.7 L420.1 255.9 M370.5 310.7 L425.3 255.9 M375.7 310.7 L430.5 255.9 M380.9 310.7 L435.7 255.9 M386.1 310.7 L440.9 255.9" stroke="#141414" stroke-width="1.5" fill="none" clip-path="url(#c10)"/>
<path d="M245.6 256.9 C249 258.5 252.5 262 254.3 267 C256.8 273 256.5 282 259 288 C261 293 266 296.5 275 298.8 C292 302.5 306 303.4 318 303.4 L376.6 303.3 L386 303.3 L386 307.2 C386 309 385 309.7 383 309.7 L318 309.3 C303 309.2 287 307.8 272 304.6 C262 302.2 256.5 298.5 254 292 C251.5 285 251.8 278 249.3 274 C247.8 271.2 246.5 269 245.6 269 Z" stroke="#141414" stroke-width="1.5" fill="none" stroke-linejoin="round" stroke-linecap="round"/>
<clipPath id="c11"><path d="M214.7 255.4 L241.8 255.4 L241.8 260.3 L214.7 260.3 Z"/></clipPath>
<path d="M214.7 255.4 L241.8 255.4 L241.8 260.3 L214.7 260.3 Z" fill="#fff" stroke="none"/>
<path d="M202.4 254.4 L209.3 261.3 M207.6 254.4 L214.5 261.3 M212.8 254.4 L219.7 261.3 M218 254.4 L224.9 261.3 M223.2 254.4 L230.1 261.3 M228.4 254.4 L235.3 261.3 M233.6 254.4 L240.5 261.3 M238.8 254.4 L245.7 261.3" stroke="#141414" stroke-width="1.5" fill="none" clip-path="url(#c11)"/>
<path d="M214.7 255.4 L241.8 255.4 L241.8 260.3 L214.7 260.3 Z" stroke="#141414" stroke-width="1.5" fill="none" stroke-linejoin="round" stroke-linecap="round"/>
<line x1="214.3" y1="255.7" x2="244" y2="255.7" stroke="#141414" stroke-width="2.3" stroke-linecap="butt"/>
<clipPath id="c12"><path d="M214.7 264.4 L245.6 264.4 L245.6 269 L214.7 269 Z"/></clipPath>
<path d="M214.7 264.4 L245.6 264.4 L245.6 269 L214.7 269 Z" fill="#fff" stroke="none"/>
<path d="M203.2 270 L209.8 263.4 M208.4 270 L215 263.4 M213.6 270 L220.2 263.4 M218.8 270 L225.4 263.4 M224 270 L230.6 263.4 M229.2 270 L235.8 263.4 M234.4 270 L241 263.4 M239.6 270 L246.2 263.4 M244.8 270 L251.4 263.4" stroke="#141414" stroke-width="1.5" fill="none" clip-path="url(#c12)"/>
<path d="M214.7 264.4 L245.6 264.4 L245.6 269 L214.7 269 Z" stroke="#141414" stroke-width="1.5" fill="none" stroke-linejoin="round" stroke-linecap="round"/>
<clipPath id="c13"><path d="M241.8 255.9 L245.6 256.9 L245.6 269 L241.8 264.4 Z"/></clipPath>
<path d="M241.8 255.9 L245.6 256.9 L245.6 269 L241.8 264.4 Z" fill="#fff" stroke="none"/>
<path d="M224 270 L239.1 254.9 M229.2 270 L244.3 254.9 M234.4 270 L249.5 254.9 M239.6 270 L254.7 254.9 M244.8 270 L259.9 254.9" stroke="#141414" stroke-width="1.5" fill="none" clip-path="url(#c13)"/>
<path d="M241.8 255.9 L245.6 256.9 L245.6 269 L241.8 264.4 Z" stroke="#141414" stroke-width="1.5" fill="none" stroke-linejoin="round" stroke-linecap="round"/>
<rect x="299.5" y="309.3" width="28.3" height="3.6" stroke="#141414" stroke-width="1.1" fill="none"/>
<line x1="317.7" y1="291.5" x2="317.7" y2="321" stroke="#141414" stroke-width="1.1" stroke-linecap="butt"/>
<clipPath id="c14"><path d="M214.7 182.6 L245.6 182.6 L245.6 187.5 L214.7 187.5 Z"/></clipPath>
<path d="M214.7 182.6 L245.6 182.6 L245.6 187.5 L214.7 187.5 Z" fill="#fff" stroke="none"/>
<path d="M202.4 181.6 L209.3 188.5 M207.6 181.6 L214.5 188.5 M212.8 181.6 L219.7 188.5 M218 181.6 L224.9 188.5 M223.2 181.6 L230.1 188.5 M228.4 181.6 L235.3 188.5 M233.6 181.6 L240.5 188.5 M238.8 181.6 L245.7 188.5 M244 181.6 L250.9 188.5" stroke="#141414" stroke-width="1.5" fill="none" clip-path="url(#c14)"/>
<path d="M214.7 182.6 L245.6 182.6 L245.6 187.5 L214.7 187.5 Z" stroke="#141414" stroke-width="1.5" fill="none" stroke-linejoin="round" stroke-linecap="round"/>
<clipPath id="c15"><path d="M245.6 182.6 L248 182 L260.8 152.2 L266.2 152.8 L266.2 157 L252.5 184.5 C251.5 186.5 249.5 187.5 245.6 187.5 Z"/></clipPath>
<path d="M245.6 182.6 L248 182 L260.8 152.2 L266.2 152.8 L266.2 157 L252.5 184.5 C251.5 186.5 249.5 187.5 245.6 187.5 Z" fill="#fff" stroke="none"/>
<path d="M206.7 188.5 L244 151.2 M211.9 188.5 L249.2 151.2 M217.1 188.5 L254.4 151.2 M222.3 188.5 L259.6 151.2 M227.5 188.5 L264.8 151.2 M232.7 188.5 L270 151.2 M237.9 188.5 L275.2 151.2 M243.1 188.5 L280.4 151.2 M248.3 188.5 L285.6 151.2 M253.5 188.5 L290.8 151.2 M258.7 188.5 L296 151.2 M263.9 188.5 L301.2 151.2" stroke="#141414" stroke-width="1.5" fill="none" clip-path="url(#c15)"/>
<path d="M245.6 182.6 L248 182 L260.8 152.2 L266.2 152.8 L266.2 157 L252.5 184.5 C251.5 186.5 249.5 187.5 245.6 187.5 Z" stroke="#141414" stroke-width="1.5" fill="none" stroke-linejoin="round" stroke-linecap="round"/>
<line x1="214.3" y1="130.3" x2="230.5" y2="130.3" stroke="#141414" stroke-width="1.5" stroke-linecap="butt"/>
<path d="M230 130.3 C232 130.3 233 131.3 233 133.5 L231.3 182.6" stroke="#141414" stroke-width="1.25" fill="none" stroke-linejoin="round" stroke-linecap="round"/>
<line x1="236.9" y1="131.5" x2="235.4" y2="182.6" stroke="#141414" stroke-width="1.25" stroke-linecap="butt"/>
<line x1="243" y1="132.2" x2="243" y2="182.6" stroke="#141414" stroke-width="1.1" stroke-linecap="butt"/>
<line x1="245.2" y1="132.2" x2="245" y2="182.6" stroke="#141414" stroke-width="1.1" stroke-linecap="butt"/>
<line x1="248.1" y1="132.2" x2="247.4" y2="182.6" stroke="#141414" stroke-width="1.1" stroke-linecap="butt"/>
<line x1="229.7" y1="187.5" x2="227.8" y2="255.9" stroke="#141414" stroke-width="1.1" stroke-linecap="butt"/>
<line x1="233.4" y1="187.5" x2="230.6" y2="255.9" stroke="#141414" stroke-width="1.1" stroke-linecap="butt"/>
<line x1="241.8" y1="187.5" x2="238.1" y2="255.9" stroke="#141414" stroke-width="1.1" stroke-linecap="butt"/>
<line x1="245.6" y1="187.5" x2="240.9" y2="255.9" stroke="#141414" stroke-width="1.1" stroke-linecap="butt"/>
<clipPath id="c16"><path d="M262 147.6 L372.5 147.6 L372.5 152.2 L262 152.2 Z"/></clipPath>
<path d="M262 147.6 L372.5 147.6 L372.5 152.2 L262 152.2 Z" fill="#fff" stroke="none"/>
<path d="M252.4 153.2 L259 146.6 M257.6 153.2 L264.2 146.6 M262.8 153.2 L269.4 146.6 M268 153.2 L274.6 146.6 M273.2 153.2 L279.8 146.6 M278.4 153.2 L285 146.6 M283.6 153.2 L290.2 146.6 M288.8 153.2 L295.4 146.6 M294 153.2 L300.6 146.6 M299.2 153.2 L305.8 146.6 M304.4 153.2 L311 146.6 M309.6 153.2 L316.2 146.6 M314.8 153.2 L321.4 146.6 M320 153.2 L326.6 146.6 M325.2 153.2 L331.8 146.6 M330.4 153.2 L337 146.6 M335.6 153.2 L342.2 146.6 M340.8 153.2 L347.4 146.6 M346 153.2 L352.6 146.6 M351.2 153.2 L357.8 146.6 M356.4 153.2 L363 146.6 M361.6 153.2 L368.2 146.6 M366.8 153.2 L373.4 146.6 M372 153.2 L378.6 146.6" stroke="#141414" stroke-width="1.5" fill="none" clip-path="url(#c16)"/>
<path d="M262 147.6 L372.5 147.6 L372.5 152.2 L262 152.2 Z" stroke="#141414" stroke-width="1.5" fill="none" stroke-linejoin="round" stroke-linecap="round"/>
<line x1="261.6" y1="146.9" x2="372.9" y2="146.9" stroke="#141414" stroke-width="2.8" stroke-linecap="butt"/>
<line x1="261.6" y1="152.4" x2="372.9" y2="152.4" stroke="#141414" stroke-width="2" stroke-linecap="butt"/>
<clipPath id="c17"><path d="M264.4 277.4 L371 277.4 L371 282.2 L264.4 282.2 Z"/></clipPath>
<path d="M264.4 277.4 L371 277.4 L371 282.2 L264.4 282.2 Z" fill="#fff" stroke="none"/>
<path d="M255.6 276.4 L262.4 283.2 M260.8 276.4 L267.6 283.2 M266 276.4 L272.8 283.2 M271.2 276.4 L278 283.2 M276.4 276.4 L283.2 283.2 M281.6 276.4 L288.4 283.2 M286.8 276.4 L293.6 283.2 M292 276.4 L298.8 283.2 M297.2 276.4 L304 283.2 M302.4 276.4 L309.2 283.2 M307.6 276.4 L314.4 283.2 M312.8 276.4 L319.6 283.2 M318 276.4 L324.8 283.2 M323.2 276.4 L330 283.2 M328.4 276.4 L335.2 283.2 M333.6 276.4 L340.4 283.2 M338.8 276.4 L345.6 283.2 M344 276.4 L350.8 283.2 M349.2 276.4 L356 283.2 M354.4 276.4 L361.2 283.2 M359.6 276.4 L366.4 283.2 M364.8 276.4 L371.6 283.2 M370 276.4 L376.8 283.2" stroke="#141414" stroke-width="1.5" fill="none" clip-path="url(#c17)"/>
<path d="M264.4 277.4 L371 277.4 L371 282.2 L264.4 282.2 Z" stroke="#141414" stroke-width="1.5" fill="none" stroke-linejoin="round" stroke-linecap="round"/>
<line x1="264.4" y1="277" x2="371" y2="277" stroke="#141414" stroke-width="2" stroke-linecap="butt"/>
<line x1="266.9" y1="152.4" x2="266.9" y2="277.2" stroke="#141414" stroke-width="3.6" stroke-linecap="butt"/>
<line x1="368.3" y1="152.4" x2="368.3" y2="277.2" stroke="#141414" stroke-width="3.4" stroke-linecap="butt"/>
<line x1="264.8" y1="170.4" x2="270.4" y2="170.4" stroke="#141414" stroke-width="1.1" stroke-linecap="butt"/>
<line x1="365.5" y1="170.4" x2="371.1" y2="170.4" stroke="#141414" stroke-width="1.1" stroke-linecap="butt"/>
<line x1="264.8" y1="194" x2="270.4" y2="194" stroke="#141414" stroke-width="1.1" stroke-linecap="butt"/>
<line x1="365.5" y1="194" x2="371.1" y2="194" stroke="#141414" stroke-width="1.1" stroke-linecap="butt"/>
<line x1="264.8" y1="217.6" x2="270.4" y2="217.6" stroke="#141414" stroke-width="1.1" stroke-linecap="butt"/>
<line x1="365.5" y1="217.6" x2="371.1" y2="217.6" stroke="#141414" stroke-width="1.1" stroke-linecap="butt"/>
<line x1="264.8" y1="241.2" x2="270.4" y2="241.2" stroke="#141414" stroke-width="1.1" stroke-linecap="butt"/>
<line x1="365.5" y1="241.2" x2="371.1" y2="241.2" stroke="#141414" stroke-width="1.1" stroke-linecap="butt"/>
<line x1="264.8" y1="264.8" x2="270.4" y2="264.8" stroke="#141414" stroke-width="1.1" stroke-linecap="butt"/>
<line x1="365.5" y1="264.8" x2="371.1" y2="264.8" stroke="#141414" stroke-width="1.1" stroke-linecap="butt"/>
<rect x="369.6" y="154.3" width="10" height="6.6" stroke="#141414" stroke-width="1.1" fill="none"/>
<path d="M276.5 146 C284 128 300 118.6 317.7 118.6 C336 118.6 351 128 357.5 146" stroke="#141414" stroke-width="1.9" fill="none" stroke-linejoin="round" stroke-linecap="round"/>
<line x1="312.8" y1="151.4" x2="312.8" y2="277.2" stroke="#141414" stroke-width="1.1" stroke-linecap="butt"/>
<line x1="323.3" y1="151.4" x2="323.3" y2="277.2" stroke="#141414" stroke-width="1.1" stroke-linecap="butt"/>
<line x1="317.7" y1="99" x2="317.7" y2="137.5" stroke="#141414" stroke-width="1.5" stroke-linecap="butt"/>
<line x1="317.9" y1="151.4" x2="317.9" y2="177" stroke="#141414" stroke-width="2" stroke-linecap="butt"/>
<line x1="317.9" y1="206" x2="317.9" y2="209" stroke="#141414" stroke-width="2" stroke-linecap="butt"/>
<line x1="317.9" y1="237" x2="317.9" y2="277.2" stroke="#141414" stroke-width="2" stroke-linecap="butt"/>
<line x1="317.9" y1="177" x2="317.9" y2="190" stroke="#a8a8a8" stroke-width="1.6" stroke-linecap="butt"/>
<line x1="317.9" y1="193" x2="317.9" y2="205" stroke="#a8a8a8" stroke-width="1.6" stroke-linecap="butt"/>
<line x1="317.9" y1="210" x2="317.9" y2="236" stroke="#a8a8a8" stroke-width="1.6" stroke-linecap="butt"/>
<rect x="311.6" y="137.6" width="13.1" height="9" stroke="#141414" stroke-width="1.5" fill="none"/>
<line x1="314.8" y1="137.6" x2="314.8" y2="146.6" stroke="#141414" stroke-width="1.5" stroke-linecap="butt"/>
<line x1="321.4" y1="137.6" x2="321.4" y2="146.6" stroke="#141414" stroke-width="1.5" stroke-linecap="butt"/>
<line x1="318" y1="118.6" x2="318" y2="146.6" stroke="#141414" stroke-width="1.5" stroke-linecap="butt"/>
<rect x="310.2" y="281.6" width="15" height="9.9" stroke="#141414" stroke-width="1.5" fill="none"/>
<line x1="314.4" y1="281.6" x2="314.4" y2="291.5" stroke="#141414" stroke-width="1.5" stroke-linecap="butt"/>
<line x1="321" y1="281.6" x2="321" y2="291.5" stroke="#141414" stroke-width="1.5" stroke-linecap="butt"/>
<line x1="317.8" y1="281.6" x2="317.8" y2="291.5" stroke="#141414" stroke-width="1.5" stroke-linecap="butt"/>
<line x1="312.8" y1="281.6" x2="312.8" y2="291.5" stroke="#141414" stroke-width="1.1" stroke-linecap="butt"/>
<line x1="323.3" y1="281.6" x2="323.3" y2="291.5" stroke="#141414" stroke-width="1.1" stroke-linecap="butt"/>
<circle cx="288.1" cy="228.4" r="4.5" stroke="#141414" stroke-width="1.3" fill="none"/>
<circle cx="301.3" cy="228.4" r="4.5" stroke="#141414" stroke-width="1.3" fill="none"/>
<circle cx="281.4" cy="240.2" r="4.5" stroke="#141414" stroke-width="1.3" fill="none"/>
<circle cx="294.6" cy="240.2" r="4.5" stroke="#141414" stroke-width="1.3" fill="none"/>
<circle cx="308" cy="240.2" r="4.5" stroke="#141414" stroke-width="1.3" fill="none"/>
<circle cx="288.1" cy="251.9" r="4.5" stroke="#141414" stroke-width="1.3" fill="none"/>
<circle cx="301.3" cy="251.9" r="4.5" stroke="#141414" stroke-width="1.3" fill="none"/>
<line x1="272.5" y1="224.3" x2="293" y2="260.5" stroke="#141414" stroke-width="1.1" stroke-linecap="butt"/>
<line x1="280.6" y1="216.7" x2="306.9" y2="261.6" stroke="#141414" stroke-width="1.1" stroke-linecap="butt"/>
<line x1="292.9" y1="213.6" x2="314.6" y2="252" stroke="#141414" stroke-width="1.1" stroke-linecap="butt"/>
<line x1="296.4" y1="213.6" x2="272.5" y2="255.8" stroke="#141414" stroke-width="1.1" stroke-linecap="butt"/>
<line x1="305.9" y1="220.6" x2="281.4" y2="263.6" stroke="#141414" stroke-width="1.1" stroke-linecap="butt"/>
<line x1="314.2" y1="230" x2="294.7" y2="262.8" stroke="#141414" stroke-width="1.1" stroke-linecap="butt"/>
<line x1="581.1" y1="36.2" x2="581.1" y2="311" stroke="#141414" stroke-width="1.1" stroke-linecap="butt"/>
<rect x="572.9" y="38.9" width="16.3" height="4.3" stroke="#141414" stroke-width="1.5" fill="none"/>
<line x1="574.8" y1="38.9" x2="574.8" y2="52" stroke="#141414" stroke-width="1.1" stroke-linecap="butt"/>
<line x1="578.4" y1="38.9" x2="578.4" y2="52" stroke="#141414" stroke-width="1.1" stroke-linecap="butt"/>
<line x1="583.8" y1="38.9" x2="583.8" y2="52" stroke="#141414" stroke-width="1.1" stroke-linecap="butt"/>
<line x1="587.4" y1="38.9" x2="587.4" y2="52" stroke="#141414" stroke-width="1.1" stroke-linecap="butt"/>
<clipPath id="c18"><path d="M563.3 43.2 L599.1 43.2 L599.1 66.6 L563.3 66.6 Z"/></clipPath>
<path d="M563.3 43.2 L599.1 43.2 L599.1 66.6 L563.3 66.6 Z" fill="#fff" stroke="none"/>
<path d="M532.4 67.6 L557.8 42.2 M537.4 67.6 L562.8 42.2 M542.4 67.6 L567.8 42.2 M547.4 67.6 L572.8 42.2 M552.4 67.6 L577.8 42.2 M557.4 67.6 L582.8 42.2 M562.4 67.6 L587.8 42.2 M567.4 67.6 L592.8 42.2 M572.4 67.6 L597.8 42.2 M577.4 67.6 L602.8 42.2 M582.4 67.6 L607.8 42.2 M587.4 67.6 L612.8 42.2 M592.4 67.6 L617.8 42.2 M597.4 67.6 L622.8 42.2" stroke="#141414" stroke-width="1.5" fill="none" clip-path="url(#c18)"/>
<path d="M563.3 43.2 L599.1 43.2 L599.1 66.6 L563.3 66.6 Z" stroke="#141414" stroke-width="1.5" fill="none" stroke-linejoin="round" stroke-linecap="round"/>
<clipPath id="c19"><path d="M569.8 44.8 L569.8 66.6 C566.8 68.4 561 70.6 558.6 73.6 C557.2 75.6 556.8 77 556.8 79.5 L556.8 123 C556.8 127.5 558.2 129.8 560 129.8 C562 129.8 563 127.5 563 124.4 L563 80 C563 77.6 564 76.6 566 76.6 L581.1 76.6 L581.1 44.8 Z"/></clipPath>
<path d="M569.8 44.8 L569.8 66.6 C566.8 68.4 561 70.6 558.6 73.6 C557.2 75.6 556.8 77 556.8 79.5 L556.8 123 C556.8 127.5 558.2 129.8 560 129.8 C562 129.8 563 127.5 563 124.4 L563 80 C563 77.6 564 76.6 566 76.6 L581.1 76.6 L581.1 44.8 Z" fill="#fff" stroke="none"/>
<path d="M463.8 43.8 L550.8 130.8 M468.8 43.8 L555.8 130.8 M473.8 43.8 L560.8 130.8 M478.8 43.8 L565.8 130.8 M483.8 43.8 L570.8 130.8 M488.8 43.8 L575.8 130.8 M493.8 43.8 L580.8 130.8 M498.8 43.8 L585.8 130.8 M503.8 43.8 L590.8 130.8 M508.8 43.8 L595.8 130.8 M513.8 43.8 L600.8 130.8 M518.8 43.8 L605.8 130.8 M523.8 43.8 L610.8 130.8 M528.8 43.8 L615.8 130.8 M533.8 43.8 L620.8 130.8 M538.8 43.8 L625.8 130.8 M543.8 43.8 L630.8 130.8 M548.8 43.8 L635.8 130.8 M553.8 43.8 L640.8 130.8 M558.8 43.8 L645.8 130.8 M563.8 43.8 L650.8 130.8 M568.8 43.8 L655.8 130.8 M573.8 43.8 L660.8 130.8 M578.8 43.8 L665.8 130.8" stroke="#141414" stroke-width="1.5" fill="none" clip-path="url(#c19)"/>
<path d="M569.8 44.8 L569.8 66.6 C566.8 68.4 561 70.6 558.6 73.6 C557.2 75.6 556.8 77 556.8 79.5 L556.8 123 C556.8 127.5 558.2 129.8 560 129.8 C562 129.8 563 127.5 563 124.4 L563 80 C563 77.6 564 76.6 566 76.6 L581.1 76.6 L581.1 44.8 Z" stroke="#141414" stroke-width="1.5" fill="none" stroke-linejoin="round" stroke-linecap="round"/>
<clipPath id="c20"><path d="M592.4 44.8 L592.4 66.6 C595.4 68.4 601.2 70.6 603.6 73.6 C605 75.6 605.4 77 605.4 79.5 L605.4 123 C605.4 127.5 604 129.8 602.2 129.8 C600.2 129.8 599.2 127.5 599.2 124.4 L599.2 80 C599.2 77.6 598.2 76.6 596.2 76.6 L581.1 76.6 L581.1 44.8 Z"/></clipPath>
<path d="M592.4 44.8 L592.4 66.6 C595.4 68.4 601.2 70.6 603.6 73.6 C605 75.6 605.4 77 605.4 79.5 L605.4 123 C605.4 127.5 604 129.8 602.2 129.8 C600.2 129.8 599.2 127.5 599.2 124.4 L599.2 80 C599.2 77.6 598.2 76.6 596.2 76.6 L581.1 76.6 L581.1 44.8 Z" fill="#fff" stroke="none"/>
<path d="M488.8 43.8 L575.8 130.8 M493.8 43.8 L580.8 130.8 M498.8 43.8 L585.8 130.8 M503.8 43.8 L590.8 130.8 M508.8 43.8 L595.8 130.8 M513.8 43.8 L600.8 130.8 M518.8 43.8 L605.8 130.8 M523.8 43.8 L610.8 130.8 M528.8 43.8 L615.8 130.8 M533.8 43.8 L620.8 130.8 M538.8 43.8 L625.8 130.8 M543.8 43.8 L630.8 130.8 M548.8 43.8 L635.8 130.8 M553.8 43.8 L640.8 130.8 M558.8 43.8 L645.8 130.8 M563.8 43.8 L650.8 130.8 M568.8 43.8 L655.8 130.8 M573.8 43.8 L660.8 130.8 M578.8 43.8 L665.8 130.8 M583.8 43.8 L670.8 130.8 M588.8 43.8 L675.8 130.8 M593.8 43.8 L680.8 130.8 M598.8 43.8 L685.8 130.8 M603.8 43.8 L690.8 130.8" stroke="#141414" stroke-width="1.5" fill="none" clip-path="url(#c20)"/>
<path d="M592.4 44.8 L592.4 66.6 C595.4 68.4 601.2 70.6 603.6 73.6 C605 75.6 605.4 77 605.4 79.5 L605.4 123 C605.4 127.5 604 129.8 602.2 129.8 C600.2 129.8 599.2 127.5 599.2 124.4 L599.2 80 C599.2 77.6 598.2 76.6 596.2 76.6 L581.1 76.6 L581.1 44.8 Z" stroke="#141414" stroke-width="1.5" fill="none" stroke-linejoin="round" stroke-linecap="round"/>
<rect x="573" y="43.2" width="16.2" height="9.4" stroke="#141414" stroke-width="1.1" fill="#fff"/>
<line x1="574.8" y1="43.2" x2="574.8" y2="52.6" stroke="#141414" stroke-width="1.1" stroke-linecap="butt"/>
<line x1="576.8" y1="43.2" x2="576.8" y2="52.6" stroke="#141414" stroke-width="1.1" stroke-linecap="butt"/>
<line x1="578.9" y1="43.2" x2="578.9" y2="52.6" stroke="#141414" stroke-width="1.1" stroke-linecap="butt"/>
<line x1="583.3" y1="43.2" x2="583.3" y2="52.6" stroke="#141414" stroke-width="1.1" stroke-linecap="butt"/>
<line x1="585.4" y1="43.2" x2="585.4" y2="52.6" stroke="#141414" stroke-width="1.1" stroke-linecap="butt"/>
<line x1="587.4" y1="43.2" x2="587.4" y2="52.6" stroke="#141414" stroke-width="1.1" stroke-linecap="butt"/>
<path d="M590.4 50 C588.6 55 588.6 60 590.4 66 C592.5 60 592.5 55 590.4 50 Z" stroke="#141414" stroke-width="1.1" fill="#fff" stroke-linejoin="round" stroke-linecap="round"/>
<rect x="579.8" y="52.6" width="2.6" height="24.4" stroke="#141414" stroke-width="0.6" fill="#141414"/>
<line x1="581.1" y1="36.2" x2="581.1" y2="53" stroke="#141414" stroke-width="1.4" stroke-linecap="butt"/>
<line x1="561" y1="54.7" x2="569.6" y2="54.7" stroke="#141414" stroke-width="2.6" stroke-linecap="butt"/>
<path d="M557 54.7 L564 51.6 L564 57.8 Z" stroke="#141414" stroke-width="0.6" fill="#141414" stroke-linejoin="round" stroke-linecap="round"/>
<line x1="581.1" y1="66.6" x2="581.1" y2="76.6" stroke="#141414" stroke-width="1.4" stroke-linecap="butt"/>
<clipPath id="c21"><path d="M519.5 76.2 L527.8 76.2 L527.8 89.7 L519.5 89.7 Z"/></clipPath>
<path d="M519.5 76.2 L527.8 76.2 L527.8 89.7 L519.5 89.7 Z" fill="#fff" stroke="none"/>
<path d="M500.2 75.2 L515.7 90.7 M505.2 75.2 L520.7 90.7 M510.2 75.2 L525.7 90.7 M515.2 75.2 L530.7 90.7 M520.2 75.2 L535.7 90.7 M525.2 75.2 L540.7 90.7" stroke="#141414" stroke-width="1.5" fill="none" clip-path="url(#c21)"/>
<path d="M519.5 76.2 L527.8 76.2 L527.8 89.7 L519.5 89.7 Z" stroke="#141414" stroke-width="1.5" fill="none" stroke-linejoin="round" stroke-linecap="round"/>
<clipPath id="c22"><path d="M538.9 76.2 L556.8 76.2 L556.8 127.5 L552.5 129.3 L548.4 126 L546.9 96.8 L540.7 92.8 L540.7 89.7 L538.9 89.7 Z"/></clipPath>
<path d="M538.9 76.2 L556.8 76.2 L556.8 127.5 L552.5 129.3 L548.4 126 L546.9 96.8 L540.7 92.8 L540.7 89.7 L538.9 89.7 Z" fill="#fff" stroke="none"/>
<path d="M480.2 75.2 L535.3 130.3 M485.2 75.2 L540.3 130.3 M490.2 75.2 L545.3 130.3 M495.2 75.2 L550.3 130.3 M500.2 75.2 L555.3 130.3 M505.2 75.2 L560.3 130.3 M510.2 75.2 L565.3 130.3 M515.2 75.2 L570.3 130.3 M520.2 75.2 L575.3 130.3 M525.2 75.2 L580.3 130.3 M530.2 75.2 L585.3 130.3 M535.2 75.2 L590.3 130.3 M540.2 75.2 L595.3 130.3 M545.2 75.2 L600.3 130.3 M550.2 75.2 L605.3 130.3 M555.2 75.2 L610.3 130.3" stroke="#141414" stroke-width="1.5" fill="none" clip-path="url(#c22)"/>
<path d="M538.9 76.2 L556.8 76.2 L556.8 127.5 L552.5 129.3 L548.4 126 L546.9 96.8 L540.7 92.8 L540.7 89.7 L538.9 89.7 Z" stroke="#141414" stroke-width="1.5" fill="none" stroke-linejoin="round" stroke-linecap="round"/>
<circle cx="554.3" cy="91.2" r="1.9" stroke="#141414" stroke-width="0.5" fill="#141414"/>
<circle cx="554.3" cy="101.4" r="1.9" stroke="#141414" stroke-width="0.5" fill="#141414"/>
<circle cx="548.9" cy="113.3" r="1.9" stroke="#141414" stroke-width="0.5" fill="#141414"/>
<line x1="513.4" y1="97.4" x2="527.8" y2="97.4" stroke="#141414" stroke-width="1.5" stroke-linecap="butt"/>
<clipPath id="c23"><path d="M519.5 100.2 L527.8 100.2 L527.8 111.7 L519.5 111.7 Z"/></clipPath>
<path d="M519.5 100.2 L527.8 100.2 L527.8 111.7 L519.5 111.7 Z" fill="#fff" stroke="none"/>
<path d="M504.4 112.7 L517.9 99.2 M509.5 112.7 L523 99.2 M514.6 112.7 L528.1 99.2 M519.7 112.7 L533.2 99.2 M524.8 112.7 L538.3 99.2" stroke="#141414" stroke-width="1.5" fill="none" clip-path="url(#c23)"/>
<path d="M519.5 100.2 L527.8 100.2 L527.8 111.7 L519.5 111.7 Z" stroke="#141414" stroke-width="1.5" fill="none" stroke-linejoin="round" stroke-linecap="round"/>
<line x1="513.4" y1="112.2" x2="538.9" y2="112.2" stroke="#141414" stroke-width="1.5" stroke-linecap="butt"/>
<clipPath id="c24"><path d="M538.9 100.2 L547.2 100.2 L546.9 112.3 L547.5 129.8 L543.2 129.8 L542 124.7 L540.1 112.3 L538.9 111.7 Z"/></clipPath>
<path d="M538.9 100.2 L547.2 100.2 L546.9 112.3 L547.5 129.8 L543.2 129.8 L542 124.7 L540.1 112.3 L538.9 111.7 Z" fill="#fff" stroke="none"/>
<path d="M501.6 130.8 L533.2 99.2 M506.7 130.8 L538.3 99.2 M511.8 130.8 L543.4 99.2 M516.9 130.8 L548.5 99.2 M522 130.8 L553.6 99.2 M527.1 130.8 L558.7 99.2 M532.2 130.8 L563.8 99.2 M537.3 130.8 L568.9 99.2 M542.4 130.8 L574 99.2 M547.5 130.8 L579.1 99.2" stroke="#141414" stroke-width="1.5" fill="none" clip-path="url(#c24)"/>
<path d="M538.9 100.2 L547.2 100.2 L546.9 112.3 L547.5 129.8 L543.2 129.8 L542 124.7 L540.1 112.3 L538.9 111.7 Z" stroke="#141414" stroke-width="1.5" fill="none" stroke-linejoin="round" stroke-linecap="round"/>
<rect x="527.8" y="76.2" width="11.1" height="36" stroke="#141414" stroke-width="1.1" fill="#fff"/>
<line x1="531.2" y1="76.2" x2="531.2" y2="112.2" stroke="#141414" stroke-width="1.1" stroke-linecap="butt"/>
<line x1="535.5" y1="76.2" x2="535.5" y2="112.2" stroke="#141414" stroke-width="1.1" stroke-linecap="butt"/>
<line x1="527.8" y1="89.7" x2="538.9" y2="89.7" stroke="#141414" stroke-width="1.1" stroke-linecap="butt"/>
<line x1="527.8" y1="100.2" x2="538.9" y2="100.2" stroke="#141414" stroke-width="1.1" stroke-linecap="butt"/>
<line x1="533.3" y1="112.2" x2="533.3" y2="117.4" stroke="#141414" stroke-width="1.5" stroke-linecap="butt"/>
<rect x="523.4" y="68" width="19.9" height="8.2" stroke="#141414" stroke-width="1.5" fill="none"/>
<path d="M527.9 68 L527.9 63.6 L538.9 63.6 L538.9 68" stroke="#141414" stroke-width="1.5" fill="none" stroke-linejoin="round" stroke-linecap="round"/>
<line x1="530.2" y1="63.6" x2="530.2" y2="76.2" stroke="#141414" stroke-width="1.1" stroke-linecap="butt"/>
<line x1="533.3" y1="61.5" x2="533.3" y2="76.2" stroke="#141414" stroke-width="1.1" stroke-linecap="butt"/>
<line x1="536.6" y1="63.6" x2="536.6" y2="76.2" stroke="#141414" stroke-width="1.1" stroke-linecap="butt"/>
<line x1="513.4" y1="97.4" x2="513.4" y2="130" stroke="#141414" stroke-width="1.5" stroke-linecap="butt"/>
<line x1="513.4" y1="124.8" x2="542" y2="124.8" stroke="#141414" stroke-width="1.5" stroke-linecap="butt"/>
<clipPath id="c25"><path d="M634.4 76.2 L642.7 76.2 L642.7 87.2 C642.7 88.8 641.7 89.7 640.2 89.7 L634.4 89.7 Z"/></clipPath>
<path d="M634.4 76.2 L642.7 76.2 L642.7 87.2 C642.7 88.8 641.7 89.7 640.2 89.7 L634.4 89.7 Z" fill="#fff" stroke="none"/>
<path d="M614.3 90.7 L629.8 75.2 M619.3 90.7 L634.8 75.2 M624.3 90.7 L639.8 75.2 M629.3 90.7 L644.8 75.2 M634.3 90.7 L649.8 75.2 M639.3 90.7 L654.8 75.2" stroke="#141414" stroke-width="1.5" fill="none" clip-path="url(#c25)"/>
<path d="M634.4 76.2 L642.7 76.2 L642.7 87.2 C642.7 88.8 641.7 89.7 640.2 89.7 L634.4 89.7 Z" stroke="#141414" stroke-width="1.5" fill="none" stroke-linejoin="round" stroke-linecap="round"/>
<clipPath id="c26"><path d="M623.3 76.2 L605.4 76.2 L605.4 127.5 L609.7 129.3 L613.8 126 L615.3 96.8 L621.5 92.8 L621.5 89.7 L623.3 89.7 Z"/></clipPath>
<path d="M623.3 76.2 L605.4 76.2 L605.4 127.5 L609.7 129.3 L613.8 126 L615.3 96.8 L621.5 92.8 L621.5 89.7 L623.3 89.7 Z" fill="#fff" stroke="none"/>
<path d="M545.2 75.2 L600.3 130.3 M550.2 75.2 L605.3 130.3 M555.2 75.2 L610.3 130.3 M560.2 75.2 L615.3 130.3 M565.2 75.2 L620.3 130.3 M570.2 75.2 L625.3 130.3 M575.2 75.2 L630.3 130.3 M580.2 75.2 L635.3 130.3 M585.2 75.2 L640.3 130.3 M590.2 75.2 L645.3 130.3 M595.2 75.2 L650.3 130.3 M600.2 75.2 L655.3 130.3 M605.2 75.2 L660.3 130.3 M610.2 75.2 L665.3 130.3 M615.2 75.2 L670.3 130.3 M620.2 75.2 L675.3 130.3" stroke="#141414" stroke-width="1.5" fill="none" clip-path="url(#c26)"/>
<path d="M623.3 76.2 L605.4 76.2 L605.4 127.5 L609.7 129.3 L613.8 126 L615.3 96.8 L621.5 92.8 L621.5 89.7 L623.3 89.7 Z" stroke="#141414" stroke-width="1.5" fill="none" stroke-linejoin="round" stroke-linecap="round"/>
<circle cx="607.9" cy="91.2" r="1.9" stroke="#141414" stroke-width="0.5" fill="#141414"/>
<circle cx="607.9" cy="101.4" r="1.9" stroke="#141414" stroke-width="0.5" fill="#141414"/>
<circle cx="613.3" cy="113.3" r="1.9" stroke="#141414" stroke-width="0.5" fill="#141414"/>
<line x1="648.8" y1="97.4" x2="634.4" y2="97.4" stroke="#141414" stroke-width="1.5" stroke-linecap="butt"/>
<clipPath id="c27"><path d="M642.7 100.2 L634.4 100.2 L634.4 111.7 L642.7 111.7 Z"/></clipPath>
<path d="M642.7 100.2 L634.4 100.2 L634.4 111.7 L642.7 111.7 Z" fill="#fff" stroke="none"/>
<path d="M616.6 112.7 L630.1 99.2 M621.7 112.7 L635.2 99.2 M626.8 112.7 L640.3 99.2 M631.9 112.7 L645.4 99.2 M637 112.7 L650.5 99.2 M642.1 112.7 L655.6 99.2" stroke="#141414" stroke-width="1.5" fill="none" clip-path="url(#c27)"/>
<path d="M642.7 100.2 L634.4 100.2 L634.4 111.7 L642.7 111.7 Z" stroke="#141414" stroke-width="1.5" fill="none" stroke-linejoin="round" stroke-linecap="round"/>
<line x1="648.8" y1="112.2" x2="623.3" y2="112.2" stroke="#141414" stroke-width="1.5" stroke-linecap="butt"/>
<clipPath id="c28"><path d="M623.3 100.2 L615 100.2 L615.3 112.3 L614.7 129.8 L619 129.8 L620.2 124.7 L622.1 112.3 L623.3 111.7 Z"/></clipPath>
<path d="M623.3 100.2 L615 100.2 L615.3 112.3 L614.7 129.8 L619 129.8 L620.2 124.7 L622.1 112.3 L623.3 111.7 Z" fill="#fff" stroke="none"/>
<path d="M578.1 130.8 L609.7 99.2 M583.2 130.8 L614.8 99.2 M588.3 130.8 L619.9 99.2 M593.4 130.8 L625 99.2 M598.5 130.8 L630.1 99.2 M603.6 130.8 L635.2 99.2 M608.7 130.8 L640.3 99.2 M613.8 130.8 L645.4 99.2 M618.9 130.8 L650.5 99.2 M624 130.8 L655.6 99.2" stroke="#141414" stroke-width="1.5" fill="none" clip-path="url(#c28)"/>
<path d="M623.3 100.2 L615 100.2 L615.3 112.3 L614.7 129.8 L619 129.8 L620.2 124.7 L622.1 112.3 L623.3 111.7 Z" stroke="#141414" stroke-width="1.5" fill="none" stroke-linejoin="round" stroke-linecap="round"/>
<rect x="623.3" y="76.2" width="11.1" height="36" stroke="#141414" stroke-width="1.1" fill="#fff"/>
<line x1="631" y1="76.2" x2="631" y2="112.2" stroke="#141414" stroke-width="1.1" stroke-linecap="butt"/>
<line x1="626.7" y1="76.2" x2="626.7" y2="112.2" stroke="#141414" stroke-width="1.1" stroke-linecap="butt"/>
<line x1="634.4" y1="89.7" x2="623.3" y2="89.7" stroke="#141414" stroke-width="1.1" stroke-linecap="butt"/>
<line x1="634.4" y1="100.2" x2="623.3" y2="100.2" stroke="#141414" stroke-width="1.1" stroke-linecap="butt"/>
<line x1="628.9" y1="112.2" x2="628.9" y2="117.4" stroke="#141414" stroke-width="1.5" stroke-linecap="butt"/>
<rect x="618.9" y="68" width="19.9" height="8.2" stroke="#141414" stroke-width="1.5" fill="none"/>
<path d="M634.3 68 L634.3 63.6 L623.3 63.6 L623.3 68" stroke="#141414" stroke-width="1.5" fill="none" stroke-linejoin="round" stroke-linecap="round"/>
<line x1="632" y1="63.6" x2="632" y2="76.2" stroke="#141414" stroke-width="1.1" stroke-linecap="butt"/>
<line x1="628.9" y1="61.5" x2="628.9" y2="76.2" stroke="#141414" stroke-width="1.1" stroke-linecap="butt"/>
<line x1="625.6" y1="63.6" x2="625.6" y2="76.2" stroke="#141414" stroke-width="1.1" stroke-linecap="butt"/>
<line x1="648.8" y1="97.4" x2="648.8" y2="130" stroke="#141414" stroke-width="1.5" stroke-linecap="butt"/>
<line x1="648.8" y1="124.8" x2="620.2" y2="124.8" stroke="#141414" stroke-width="1.5" stroke-linecap="butt"/>
<line x1="513.4" y1="130" x2="513.4" y2="262" stroke="#141414" stroke-width="1.1" stroke-linecap="butt"/>
<line x1="648.8" y1="130" x2="648.8" y2="148.6" stroke="#141414" stroke-width="1.1" stroke-linecap="butt"/>
<line x1="649.6" y1="167.5" x2="649.6" y2="258.1" stroke="#141414" stroke-width="1.1" stroke-linecap="butt"/>
<path d="M562.7 134 C562.7 131.6 563.6 130.5 566 130.5 L596.2 130.5 C598.6 130.5 599.5 131.6 599.5 134" stroke="#141414" stroke-width="1.5" fill="none" stroke-linejoin="round" stroke-linecap="round"/>
<line x1="548.6" y1="130.5" x2="550.6" y2="182.3" stroke="#141414" stroke-width="1.25" stroke-linecap="butt"/>
<line x1="551.6" y1="130.5" x2="553.7" y2="182.3" stroke="#141414" stroke-width="1.25" stroke-linecap="butt"/>
<line x1="558.4" y1="131" x2="561.6" y2="182.3" stroke="#141414" stroke-width="1.25" stroke-linecap="butt"/>
<line x1="562.7" y1="133.5" x2="564.4" y2="182.3" stroke="#141414" stroke-width="1.25" stroke-linecap="butt"/>
<line x1="553.5" y1="188.5" x2="557.2" y2="255.3" stroke="#141414" stroke-width="1.25" stroke-linecap="butt"/>
<line x1="555.3" y1="188.5" x2="558.4" y2="255.3" stroke="#141414" stroke-width="1.25" stroke-linecap="butt"/>
<line x1="562.7" y1="188.5" x2="564.6" y2="255.3" stroke="#141414" stroke-width="1.25" stroke-linecap="butt"/>
<line x1="565.4" y1="188.5" x2="567.4" y2="255.3" stroke="#141414" stroke-width="1.25" stroke-linecap="butt"/>
<line x1="613.6" y1="130.5" x2="611.6" y2="182.3" stroke="#141414" stroke-width="1.25" stroke-linecap="butt"/>
<line x1="610.6" y1="130.5" x2="608.5" y2="182.3" stroke="#141414" stroke-width="1.25" stroke-linecap="butt"/>
<line x1="603.8" y1="131" x2="600.6" y2="182.3" stroke="#141414" stroke-width="1.25" stroke-linecap="butt"/>
<line x1="599.5" y1="133.5" x2="597.8" y2="182.3" stroke="#141414" stroke-width="1.25" stroke-linecap="butt"/>
<line x1="608.7" y1="188.5" x2="605" y2="255.3" stroke="#141414" stroke-width="1.25" stroke-linecap="butt"/>
<line x1="606.9" y1="188.5" x2="603.8" y2="255.3" stroke="#141414" stroke-width="1.25" stroke-linecap="butt"/>
<line x1="599.5" y1="188.5" x2="597.6" y2="255.3" stroke="#141414" stroke-width="1.25" stroke-linecap="butt"/>
<line x1="596.8" y1="188.5" x2="594.8" y2="255.3" stroke="#141414" stroke-width="1.25" stroke-linecap="butt"/>
<line x1="531.8" y1="157.7" x2="622.8" y2="157.7" stroke="#141414" stroke-width="1.5" stroke-linecap="butt"/>
<line x1="540.3" y1="221.6" x2="619.6" y2="221.6" stroke="#141414" stroke-width="1.5" stroke-linecap="butt"/>
<line x1="483.1" y1="188.4" x2="702.4" y2="188.4" stroke="#141414" stroke-width="1.1" stroke-linecap="butt"/>
<clipPath id="c29"><path d="M551 182.3 L610.2 182.3 L610.2 187.3 L547.3 187.3 Z"/></clipPath>
<path d="M551 182.3 L610.2 182.3 L610.2 187.3 L547.3 187.3 Z" fill="#fff" stroke="none"/>
<path d="M538.3 181.3 L545.3 188.3 M543.4 181.3 L550.4 188.3 M548.5 181.3 L555.5 188.3 M553.6 181.3 L560.6 188.3 M558.7 181.3 L565.7 188.3 M563.8 181.3 L570.8 188.3 M568.9 181.3 L575.9 188.3 M574 181.3 L581 188.3 M579.1 181.3 L586.1 188.3 M584.2 181.3 L591.2 188.3 M589.3 181.3 L596.3 188.3 M594.4 181.3 L601.4 188.3 M599.5 181.3 L606.5 188.3 M604.6 181.3 L611.6 188.3 M609.7 181.3 L616.7 188.3" stroke="#141414" stroke-width="1.5" fill="none" clip-path="url(#c29)"/>
<path d="M551 182.3 L610.2 182.3 L610.2 187.3 L547.3 187.3 Z" stroke="#141414" stroke-width="1.5" fill="none" stroke-linejoin="round" stroke-linecap="round"/>
<line x1="547.3" y1="187.9" x2="611" y2="187.9" stroke="#141414" stroke-width="2" stroke-linecap="butt"/>
<clipPath id="c30"><path d="M612.5 130 L619.6 130 L619.6 183.4 L612.5 186.5 Z"/></clipPath>
<path d="M612.5 130 L619.6 130 L619.6 183.4 L612.5 186.5 Z" fill="#fff" stroke="none"/>
<path d="M552 187.5 L610.5 129 M557.1 187.5 L615.6 129 M562.2 187.5 L620.7 129 M567.3 187.5 L625.8 129 M572.4 187.5 L630.9 129 M577.5 187.5 L636 129 M582.6 187.5 L641.1 129 M587.7 187.5 L646.2 129 M592.8 187.5 L651.3 129 M597.9 187.5 L656.4 129 M603 187.5 L661.5 129 M608.1 187.5 L666.6 129 M613.2 187.5 L671.7 129 M618.3 187.5 L676.8 129" stroke="#141414" stroke-width="1.5" fill="none" clip-path="url(#c30)"/>
<path d="M612.5 130 L619.6 130 L619.6 183.4 L612.5 186.5 Z" stroke="#141414" stroke-width="1.5" fill="none" stroke-linejoin="round" stroke-linecap="round"/>
<clipPath id="c31"><path d="M545.9 193.5 L552.5 188 L552.5 258.1 L545.9 258.1 Z"/></clipPath>
<path d="M545.9 193.5 L552.5 188 L552.5 258.1 L545.9 258.1 Z" fill="#fff" stroke="none"/>
<path d="M470.2 259.1 L542.3 187 M475.3 259.1 L547.4 187 M480.4 259.1 L552.5 187 M485.5 259.1 L557.6 187 M490.6 259.1 L562.7 187 M495.7 259.1 L567.8 187 M500.8 259.1 L572.9 187 M505.9 259.1 L578 187 M511 259.1 L583.1 187 M516.1 259.1 L588.2 187 M521.2 259.1 L593.3 187 M526.3 259.1 L598.4 187 M531.4 259.1 L603.5 187 M536.5 259.1 L608.6 187 M541.6 259.1 L613.7 187 M546.7 259.1 L618.8 187 M551.8 259.1 L623.9 187" stroke="#141414" stroke-width="1.5" fill="none" clip-path="url(#c31)"/>
<path d="M545.9 193.5 L552.5 188 L552.5 258.1 L545.9 258.1 Z" stroke="#141414" stroke-width="1.5" fill="none" stroke-linejoin="round" stroke-linecap="round"/>
<clipPath id="c32"><path d="M548.7 258 L548.7 265.4 C548.7 267.5 549.8 268.4 552 268.4 L610.2 268.4 C612.4 268.4 613.4 267.5 613.4 265.4 L613.4 258 L608.7 258 L608.7 260 L554.3 260 L554.3 258 Z"/></clipPath>
<path d="M548.7 258 L548.7 265.4 C548.7 267.5 549.8 268.4 552 268.4 L610.2 268.4 C612.4 268.4 613.4 267.5 613.4 265.4 L613.4 258 L608.7 258 L608.7 260 L554.3 260 L554.3 258 Z" fill="#fff" stroke="none"/>
<path d="M531.3 269.4 L543.7 257 M536.4 269.4 L548.8 257 M541.5 269.4 L553.9 257 M546.6 269.4 L559 257 M551.7 269.4 L564.1 257 M556.8 269.4 L569.2 257 M561.9 269.4 L574.3 257 M567 269.4 L579.4 257 M572.1 269.4 L584.5 257 M577.2 269.4 L589.6 257 M582.3 269.4 L594.7 257 M587.4 269.4 L599.8 257 M592.5 269.4 L604.9 257 M597.6 269.4 L610 257 M602.7 269.4 L615.1 257 M607.8 269.4 L620.2 257 M612.9 269.4 L625.3 257" stroke="#141414" stroke-width="1.5" fill="none" clip-path="url(#c32)"/>
<path d="M548.7 258 L548.7 265.4 C548.7 267.5 549.8 268.4 552 268.4 L610.2 268.4 C612.4 268.4 613.4 267.5 613.4 265.4 L613.4 258 L608.7 258 L608.7 260 L554.3 260 L554.3 258 Z" stroke="#141414" stroke-width="1.5" fill="none" stroke-linejoin="round" stroke-linecap="round"/>
<clipPath id="c33"><path d="M554.3 255.3 L608.7 255.3 L608.7 260 L554.3 260 Z"/></clipPath>
<path d="M554.3 255.3 L608.7 255.3 L608.7 260 L554.3 260 Z" fill="#fff" stroke="none"/>
<path d="M545 254.3 L551.7 261 M550.1 254.3 L556.8 261 M555.2 254.3 L561.9 261 M560.3 254.3 L567 261 M565.4 254.3 L572.1 261 M570.5 254.3 L577.2 261 M575.6 254.3 L582.3 261 M580.7 254.3 L587.4 261 M585.8 254.3 L592.5 261 M590.9 254.3 L597.6 261 M596 254.3 L602.7 261 M601.1 254.3 L607.8 261 M606.2 254.3 L612.9 261" stroke="#141414" stroke-width="1.5" fill="none" clip-path="url(#c33)"/>
<path d="M554.3 255.3 L608.7 255.3 L608.7 260 L554.3 260 Z" stroke="#141414" stroke-width="1.5" fill="none" stroke-linejoin="round" stroke-linecap="round"/>
<clipPath id="c34"><path d="M487.2 130.2 L498.1 130.2 L498.1 154.5 C498.1 157 499.2 158.1 501.5 158.1 L514.6 158.1 L543.2 129.7 L547.6 129.7 L548.2 131 L518.7 163.7 L487.2 163.7 Z"/></clipPath>
<path d="M487.2 130.2 L498.1 130.2 L498.1 154.5 C498.1 157 499.2 158.1 501.5 158.1 L514.6 158.1 L543.2 129.7 L547.6 129.7 L548.2 131 L518.7 163.7 L487.2 163.7 Z" fill="#fff" stroke="none"/>
<path d="M447.3 164.7 L483.3 128.7 M452.4 164.7 L488.4 128.7 M457.5 164.7 L493.5 128.7 M462.6 164.7 L498.6 128.7 M467.7 164.7 L503.7 128.7 M472.8 164.7 L508.8 128.7 M477.9 164.7 L513.9 128.7 M483 164.7 L519 128.7 M488.1 164.7 L524.1 128.7 M493.2 164.7 L529.2 128.7 M498.3 164.7 L534.3 128.7 M503.4 164.7 L539.4 128.7 M508.5 164.7 L544.5 128.7 M513.6 164.7 L549.6 128.7 M518.7 164.7 L554.7 128.7 M523.8 164.7 L559.8 128.7 M528.9 164.7 L564.9 128.7 M534 164.7 L570 128.7 M539.1 164.7 L575.1 128.7 M544.2 164.7 L580.2 128.7" stroke="#141414" stroke-width="1.5" fill="none" clip-path="url(#c34)"/>
<path d="M487.2 130.2 L498.1 130.2 L498.1 154.5 C498.1 157 499.2 158.1 501.5 158.1 L514.6 158.1 L543.2 129.7 L547.6 129.7 L548.2 131 L518.7 163.7 L487.2 163.7 Z" stroke="#141414" stroke-width="1.5" fill="none" stroke-linejoin="round" stroke-linecap="round"/>
<clipPath id="c35"><path d="M487.2 213.7 L516.2 213.7 L546 187.5 L550.6 187.5 L552.5 188.4 L520 218.4 L501.5 218.4 C499.2 218.4 498.1 219.5 498.1 222 L498.1 247.5 L487.2 247.5 Z"/></clipPath>
<path d="M487.2 213.7 L516.2 213.7 L546 187.5 L550.6 187.5 L552.5 188.4 L520 218.4 L501.5 218.4 C499.2 218.4 498.1 219.5 498.1 222 L498.1 247.5 L487.2 247.5 Z" fill="#fff" stroke="none"/>
<path d="M419.6 248.5 L481.6 186.5 M424.7 248.5 L486.7 186.5 M429.8 248.5 L491.8 186.5 M434.9 248.5 L496.9 186.5 M440 248.5 L502 186.5 M445.1 248.5 L507.1 186.5 M450.2 248.5 L512.2 186.5 M455.3 248.5 L517.3 186.5 M460.4 248.5 L522.4 186.5 M465.5 248.5 L527.5 186.5 M470.6 248.5 L532.6 186.5 M475.7 248.5 L537.7 186.5 M480.8 248.5 L542.8 186.5 M485.9 248.5 L547.9 186.5 M491 248.5 L553 186.5 M496.1 248.5 L558.1 186.5 M501.2 248.5 L563.2 186.5 M506.3 248.5 L568.3 186.5 M511.4 248.5 L573.4 186.5 M516.5 248.5 L578.5 186.5 M521.6 248.5 L583.6 186.5 M526.7 248.5 L588.7 186.5 M531.8 248.5 L593.8 186.5 M536.9 248.5 L598.9 186.5 M542 248.5 L604 186.5 M547.1 248.5 L609.1 186.5 M552.2 248.5 L614.2 186.5" stroke="#141414" stroke-width="1.5" fill="none" clip-path="url(#c35)"/>
<path d="M487.2 213.7 L516.2 213.7 L546 187.5 L550.6 187.5 L552.5 188.4 L520 218.4 L501.5 218.4 C499.2 218.4 498.1 219.5 498.1 222 L498.1 247.5 L487.2 247.5 Z" stroke="#141414" stroke-width="1.5" fill="none" stroke-linejoin="round" stroke-linecap="round"/>
<rect x="487.2" y="229.7" width="10.9" height="10.3" stroke="#141414" stroke-width="1.1" fill="#fff"/>
<line x1="483.1" y1="142" x2="501.9" y2="142" stroke="#141414" stroke-width="1.1" stroke-linecap="butt"/>
<line x1="483.1" y1="234.6" x2="502.8" y2="234.6" stroke="#141414" stroke-width="1.1" stroke-linecap="butt"/>
<rect x="484.6" y="153.4" width="2.6" height="3" stroke="#141414" stroke-width="0.5" fill="#141414"/>
<rect x="484.6" y="219" width="2.6" height="3" stroke="#141414" stroke-width="0.5" fill="#141414"/>
<line x1="487.2" y1="163.7" x2="487.2" y2="213.7" stroke="#141414" stroke-width="1.5" stroke-linecap="butt"/>
<line x1="487.2" y1="247.5" x2="487.2" y2="342.8" stroke="#141414" stroke-width="1.1" stroke-linecap="butt"/>
<clipPath id="c36"><path d="M674.8 130.2 L663.9 130.2 L663.9 154.5 C663.9 157 662.8 158.1 660.5 158.1 L646.2 158.1 L612.5 185.3 L612.5 187.4 L618.4 187.4 L649.4 163.7 L674.8 163.7 Z"/></clipPath>
<path d="M674.8 130.2 L663.9 130.2 L663.9 154.5 C663.9 157 662.8 158.1 660.5 158.1 L646.2 158.1 L612.5 185.3 L612.5 187.4 L618.4 187.4 L649.4 163.7 L674.8 163.7 Z" fill="#fff" stroke="none"/>
<path d="M551.1 188.4 L610.3 129.2 M556.2 188.4 L615.4 129.2 M561.3 188.4 L620.5 129.2 M566.4 188.4 L625.6 129.2 M571.5 188.4 L630.7 129.2 M576.6 188.4 L635.8 129.2 M581.7 188.4 L640.9 129.2 M586.8 188.4 L646 129.2 M591.9 188.4 L651.1 129.2 M597 188.4 L656.2 129.2 M602.1 188.4 L661.3 129.2 M607.2 188.4 L666.4 129.2 M612.3 188.4 L671.5 129.2 M617.4 188.4 L676.6 129.2 M622.5 188.4 L681.7 129.2 M627.6 188.4 L686.8 129.2 M632.7 188.4 L691.9 129.2 M637.8 188.4 L697 129.2 M642.9 188.4 L702.1 129.2 M648 188.4 L707.2 129.2 M653.1 188.4 L712.3 129.2 M658.2 188.4 L717.4 129.2 M663.3 188.4 L722.5 129.2 M668.4 188.4 L727.6 129.2 M673.5 188.4 L732.7 129.2" stroke="#141414" stroke-width="1.5" fill="none" clip-path="url(#c36)"/>
<path d="M674.8 130.2 L663.9 130.2 L663.9 154.5 C663.9 157 662.8 158.1 660.5 158.1 L646.2 158.1 L612.5 185.3 L612.5 187.4 L618.4 187.4 L649.4 163.7 L674.8 163.7 Z" stroke="#141414" stroke-width="1.5" fill="none" stroke-linejoin="round" stroke-linecap="round"/>
<clipPath id="c37"><path d="M674.8 213.7 L646.2 213.7 L609.7 252 L609.7 257.4 L613.6 257.4 L650.6 218.4 L660.5 218.4 C662.8 218.4 663.9 219.5 663.9 222 L663.9 247.5 L674.8 247.5 Z"/></clipPath>
<path d="M674.8 213.7 L646.2 213.7 L609.7 252 L609.7 257.4 L613.6 257.4 L650.6 218.4 L660.5 218.4 C662.8 218.4 663.9 219.5 663.9 222 L663.9 247.5 L674.8 247.5 Z" fill="#fff" stroke="none"/>
<path d="M562.7 258.4 L608.4 212.7 M567.8 258.4 L613.5 212.7 M572.9 258.4 L618.6 212.7 M578 258.4 L623.7 212.7 M583.1 258.4 L628.8 212.7 M588.2 258.4 L633.9 212.7 M593.3 258.4 L639 212.7 M598.4 258.4 L644.1 212.7 M603.5 258.4 L649.2 212.7 M608.6 258.4 L654.3 212.7 M613.7 258.4 L659.4 212.7 M618.8 258.4 L664.5 212.7 M623.9 258.4 L669.6 212.7 M629 258.4 L674.7 212.7 M634.1 258.4 L679.8 212.7 M639.2 258.4 L684.9 212.7 M644.3 258.4 L690 212.7 M649.4 258.4 L695.1 212.7 M654.5 258.4 L700.2 212.7 M659.6 258.4 L705.3 212.7 M664.7 258.4 L710.4 212.7 M669.8 258.4 L715.5 212.7 M674.9 258.4 L720.6 212.7" stroke="#141414" stroke-width="1.5" fill="none" clip-path="url(#c37)"/>
<path d="M674.8 213.7 L646.2 213.7 L609.7 252 L609.7 257.4 L613.6 257.4 L650.6 218.4 L660.5 218.4 C662.8 218.4 663.9 219.5 663.9 222 L663.9 247.5 L674.8 247.5 Z" stroke="#141414" stroke-width="1.5" fill="none" stroke-linejoin="round" stroke-linecap="round"/>
<rect x="663.9" y="229.7" width="10.9" height="10.3" stroke="#141414" stroke-width="1.1" fill="#fff"/>
<line x1="661.2" y1="142" x2="679" y2="142" stroke="#141414" stroke-width="1.1" stroke-linecap="butt"/>
<line x1="659.3" y1="234.6" x2="680" y2="234.6" stroke="#141414" stroke-width="1.1" stroke-linecap="butt"/>
<rect x="674.8" y="153.4" width="2.6" height="3" stroke="#141414" stroke-width="0.5" fill="#141414"/>
<rect x="674.8" y="219" width="2.6" height="3" stroke="#141414" stroke-width="0.5" fill="#141414"/>
<line x1="675.8" y1="130.2" x2="675.8" y2="342.8" stroke="#141414" stroke-width="1.1" stroke-linecap="butt"/>
<line x1="619" y1="158.6" x2="630.5" y2="167.6" stroke="#141414" stroke-width="1.1" stroke-linecap="butt"/>
<path d="M618.2 169.5 C618.4 173 620.5 174.6 623 173.6 L629 170" stroke="#141414" stroke-width="1.1" fill="none" stroke-linejoin="round" stroke-linecap="round"/>
<line x1="543.4" y1="218.4" x2="531.9" y2="209.4" stroke="#141414" stroke-width="1.1" stroke-linecap="butt"/>
<path d="M544.2 207.5 C544 204 541.9 202.4 539.4 203.4 L533.4 207" stroke="#141414" stroke-width="1.1" fill="none" stroke-linejoin="round" stroke-linecap="round"/>
<line x1="621.8" y1="125.9" x2="657.5" y2="156.8" stroke="#141414" stroke-width="1.1" stroke-linecap="butt"/>
<line x1="546.8" y1="158.1" x2="517.8" y2="188.1" stroke="#141414" stroke-width="1.1" stroke-linecap="butt"/>
<line x1="503.7" y1="221.2" x2="548.7" y2="264.7" stroke="#141414" stroke-width="1.1" stroke-linecap="butt"/>
<line x1="643.4" y1="189.4" x2="610.6" y2="220.3" stroke="#141414" stroke-width="1.1" stroke-linecap="butt"/>
<path d="M516.9 257.2 L490.6 303.4 L490.6 312.2 L515 312.2 L581.5 308.1" stroke="#141414" stroke-width="1.25" fill="none" stroke-linejoin="round" stroke-linecap="round"/>
<path d="M516.9 257.2 C516.5 270 517.5 282 522.5 290 C528 298 538 302.5 552 305.2 C562 307 572 307.8 581.5 308.1" stroke="#141414" stroke-width="1.25" fill="none" stroke-linejoin="round" stroke-linecap="round"/>
<path d="M644.3 257.2 C645.8 268 646.5 277 645.3 282.5 C643.5 290 637 296 626.9 300.6 C615 304.6 598 306.6 581.5 308.1" stroke="#141414" stroke-width="1.25" fill="none" stroke-linejoin="round" stroke-linecap="round"/>
<line x1="581.5" y1="308.1" x2="646.5" y2="312.2" stroke="#141414" stroke-width="1.25" stroke-linecap="butt"/>
<path d="M644.3 257.2 L655.6 275 L650.9 290 L650.4 297 L651.8 303.1" stroke="#141414" stroke-width="1.1" fill="none" stroke-linejoin="round" stroke-linecap="round"/>
<clipPath id="c38"><path d="M649 303 L672 303 L672 312.2 L649 312.2 Z"/></clipPath>
<path d="M649 303 L672 303 L672 312.2 L649 312.2 Z" fill="#fff" stroke="none"/>
<path d="M635.4 313.2 L646.6 302 M640.5 313.2 L651.7 302 M645.6 313.2 L656.8 302 M650.7 313.2 L661.9 302 M655.8 313.2 L667 302 M660.9 313.2 L672.1 302 M666 313.2 L677.2 302 M671.1 313.2 L682.3 302" stroke="#141414" stroke-width="1.5" fill="none" clip-path="url(#c38)"/>
<path d="M649 303 L672 303 L672 312.2 L649 312.2 Z" stroke="#141414" stroke-width="1.5" fill="none" stroke-linejoin="round" stroke-linecap="round"/>
<line x1="649" y1="302.9" x2="672" y2="302.9" stroke="#141414" stroke-width="2" stroke-linecap="butt"/>
<line x1="500.9" y1="298.4" x2="500.9" y2="317.5" stroke="#141414" stroke-width="1.5" stroke-linecap="butt"/>
<line x1="661" y1="297" x2="661" y2="316.5" stroke="#141414" stroke-width="1.5" stroke-linecap="butt"/>
<rect x="658" y="303" width="6" height="9.2" stroke="#141414" stroke-width="1.1" fill="#fff"/>
<line x1="661" y1="297" x2="661" y2="316.5" stroke="#141414" stroke-width="1.5" stroke-linecap="butt"/>
<line x1="646.5" y1="312.2" x2="730" y2="312.2" stroke="#141414" stroke-width="1.5" stroke-linecap="butt"/>
<line x1="39.4" y1="341.8" x2="389.3" y2="341.8" stroke="#333" stroke-width="1.35" stroke-linecap="butt"/>
<line x1="39.4" y1="305" x2="39.4" y2="345" stroke="#6e6e6e" stroke-width="1.9" stroke-linecap="butt"/>
<line x1="389.3" y1="295" x2="389.3" y2="345" stroke="#555" stroke-width="1.5" stroke-linecap="butt"/>
<path d="M39.4 341.8 L45.4 340.3 L45.4 343.3 Z" stroke="#141414" stroke-width="0.4" fill="#141414" stroke-linejoin="round" stroke-linecap="round"/>
<path d="M389.3 341.8 L383.3 343.3 L383.3 340.3 Z" stroke="#141414" stroke-width="0.4" fill="#141414" stroke-linejoin="round" stroke-linecap="round"/>
<line x1="487.2" y1="339.8" x2="676" y2="339.8" stroke="#333" stroke-width="1.35" stroke-linecap="butt"/>
<path d="M487.2 339.8 L493.2 338.3 L493.2 341.3 Z" stroke="#141414" stroke-width="0.4" fill="#141414" stroke-linejoin="round" stroke-linecap="round"/>
<path d="M676 339.8 L670 341.3 L670 338.3 Z" stroke="#141414" stroke-width="0.4" fill="#141414" stroke-linejoin="round" stroke-linecap="round"/>
<line x1="573" y1="39.2" x2="729" y2="39.2" stroke="#333" stroke-width="1.35" stroke-linecap="butt"/>
<line x1="725.5" y1="39.2" x2="725.5" y2="312.2" stroke="#333" stroke-width="1.35" stroke-linecap="butt"/>
<path d="M725.5 39.2 L727 45.2 L724 45.2 Z" stroke="#141414" stroke-width="0.4" fill="#141414" stroke-linejoin="round" stroke-linecap="round"/>
<path d="M725.5 312.2 L724 306.2 L727 306.2 Z" stroke="#141414" stroke-width="0.4" fill="#141414" stroke-linejoin="round" stroke-linecap="round"/>
<line x1="698.6" y1="188.4" x2="698.6" y2="312.2" stroke="#333" stroke-width="1.35" stroke-linecap="butt"/>
<path d="M698.6 188.4 L700.1 194.4 L697.1 194.4 Z" stroke="#141414" stroke-width="0.4" fill="#141414" stroke-linejoin="round" stroke-linecap="round"/>
<path d="M698.6 312.2 L697.1 306.2 L700.1 306.2 Z" stroke="#141414" stroke-width="0.4" fill="#141414" stroke-linejoin="round" stroke-linecap="round"/>
<line x1="474.7" y1="163.7" x2="487.2" y2="163.7" stroke="#333" stroke-width="1.35" stroke-linecap="butt"/>
<line x1="474.7" y1="213.4" x2="487.2" y2="213.4" stroke="#333" stroke-width="1.35" stroke-linecap="butt"/>
<line x1="477.1" y1="163.7" x2="477.1" y2="213.4" stroke="#333" stroke-width="1.35" stroke-linecap="butt"/>
<path d="M477.1 163.7 L478.4 168.7 L475.8 168.7 Z" stroke="#141414" stroke-width="0.4" fill="#141414" stroke-linejoin="round" stroke-linecap="round"/>
<path d="M477.1 213.4 L475.8 208.4 L478.4 208.4 Z" stroke="#141414" stroke-width="0.4" fill="#141414" stroke-linejoin="round" stroke-linecap="round"/>
<path d="M206.1 328.7 L206.1 340.5 L213.2 340.5" stroke="#141414" stroke-width="1.4" fill="none" stroke-linejoin="round" stroke-linecap="round"/>
<path d="M217.3 331.2 L219.3 329 L219.3 341.2" stroke="#141414" stroke-width="1.4" fill="none" stroke-linejoin="round" stroke-linecap="round"/>
<path d="M575.6 327 L575.6 338.6 L582.4 338.6" stroke="#141414" stroke-width="1.4" fill="none" stroke-linejoin="round" stroke-linecap="round"/>
<line x1="712.3" y1="171.5" x2="724.5" y2="171.5" stroke="#141414" stroke-width="1.4" stroke-linecap="butt"/>
<line x1="712.3" y1="179.3" x2="724.5" y2="179.3" stroke="#141414" stroke-width="1.4" stroke-linecap="butt"/>
<line x1="718.4" y1="171.5" x2="718.4" y2="179.3" stroke="#141414" stroke-width="1.4" stroke-linecap="butt"/>
<line x1="686.2" y1="250.1" x2="697.7" y2="250.1" stroke="#141414" stroke-width="1.4" stroke-linecap="butt"/>
<line x1="686.2" y1="257.7" x2="697.7" y2="257.7" stroke="#141414" stroke-width="1.4" stroke-linecap="butt"/>
<line x1="691.95" y1="250.1" x2="691.95" y2="257.7" stroke="#141414" stroke-width="1.4" stroke-linecap="butt"/>
<path d="M688.2 246.4 L686.6 244.4 L698 244.4" stroke="#141414" stroke-width="1.4" fill="none" stroke-linejoin="round" stroke-linecap="round"/>
<path d="M466.4 194.6 L475.8 194.6 L475.8 191.6 C475.8 190 474.6 189.2 473.2 189.2 L469 189.2 C467.6 189.2 466.4 190 466.4 191.6 Z" stroke="#141414" stroke-width="1.3" fill="none" stroke-linejoin="round" stroke-linecap="round"/>
<path d="M475.8 187.4 L466.4 187.4 L475.8 182.5 L466.4 182.5" stroke="#141414" stroke-width="1.3" fill="none" stroke-linejoin="round" stroke-linecap="round"/>
</svg>
<div class="cap">DN20-65</div>
</body></html>
